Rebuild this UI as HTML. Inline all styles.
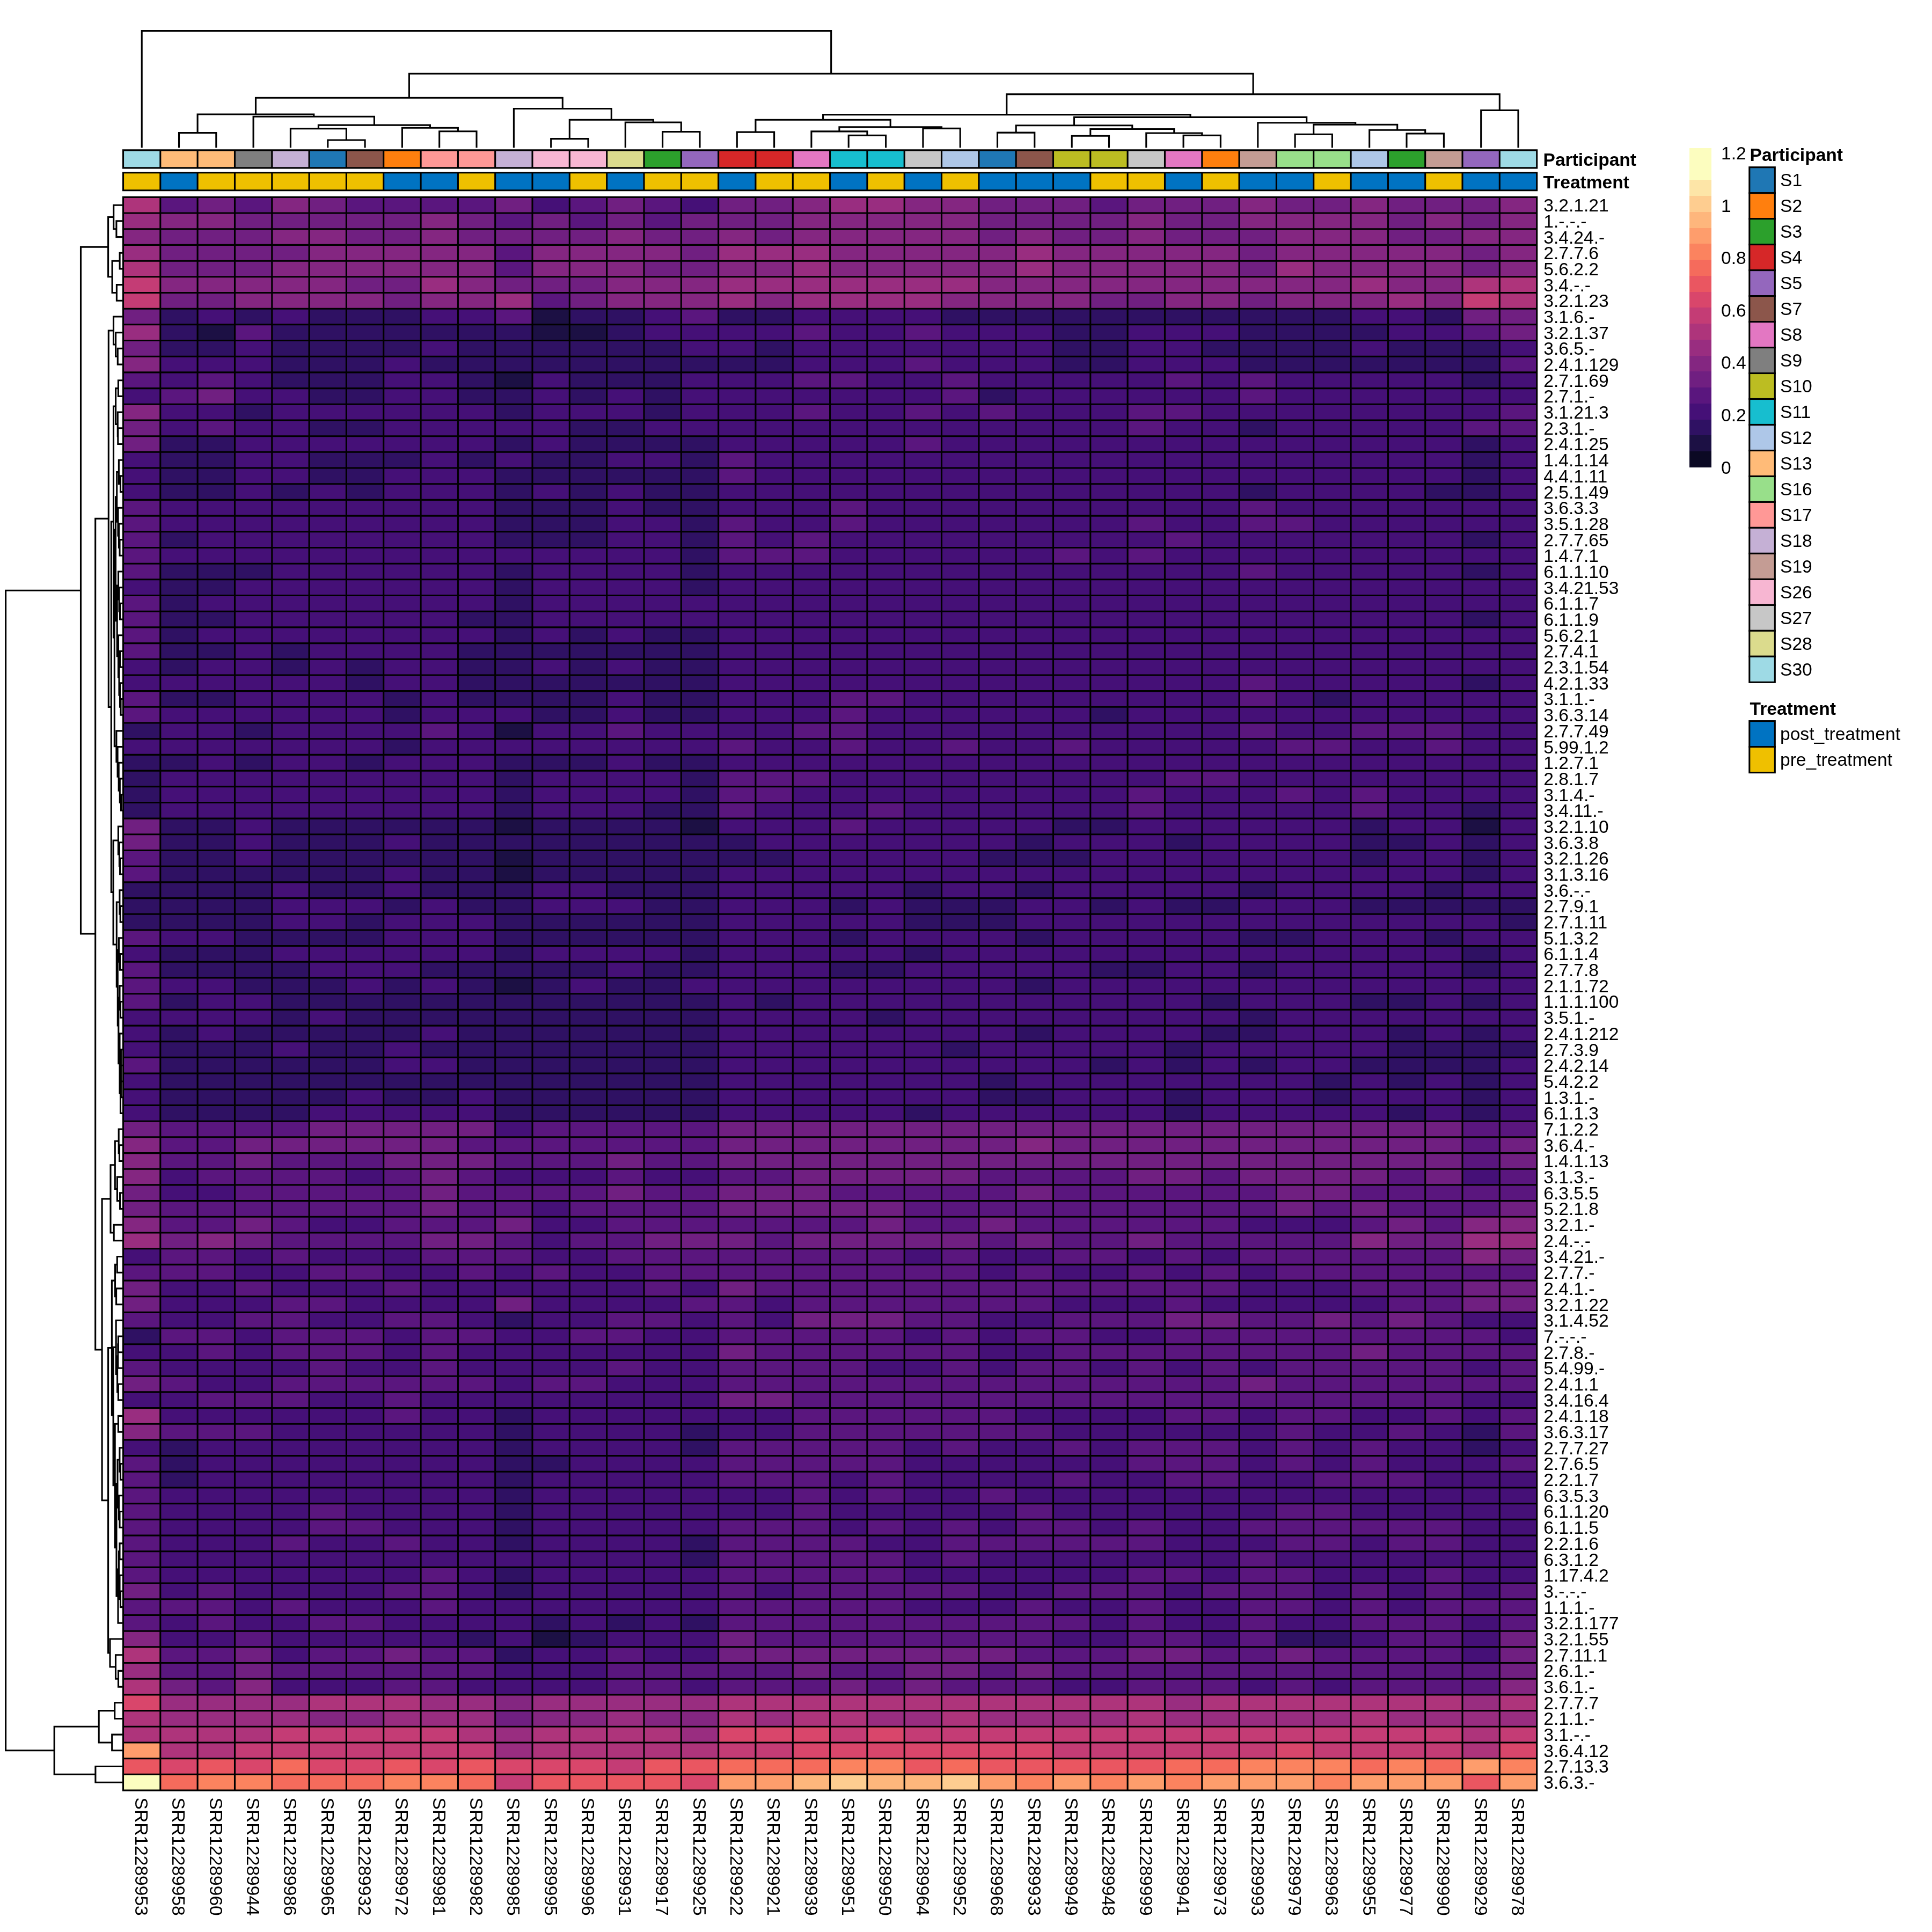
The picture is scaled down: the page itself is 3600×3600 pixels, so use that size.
<!DOCTYPE html><html><head><meta charset="utf-8"><title>heatmap</title>
<style>html,body{margin:0;padding:0;background:#fff;overflow:hidden;width:3600px;height:3600px}svg{display:block;will-change:transform}text{font-family:"Liberation Sans",Arial,Helvetica,sans-serif;font-size:33.6px;fill:#000}.b{font-weight:bold}</style></head><body>
<svg width="3600" height="3600" viewBox="0 0 3600 3600">
<rect width="3600" height="3600" fill="#fff"/>
<g shape-rendering="crispEdges">
<rect x="229.5" y="367.4" width="69.3" height="30.2" fill="#ae347b"/>
<rect x="298.8" y="367.4" width="69.3" height="30.2" fill="#5a167e"/>
<rect x="368.1" y="367.4" width="69.3" height="30.2" fill="#701f81"/>
<rect x="437.5" y="367.4" width="69.3" height="30.2" fill="#5a167e"/>
<rect x="506.8" y="367.4" width="69.3" height="30.2" fill="#842681"/>
<rect x="576.1" y="367.4" width="69.3" height="30.2" fill="#701f81"/>
<rect x="645.4" y="367.4" width="277.3" height="30.2" fill="#5a167e"/>
<rect x="922.7" y="367.4" width="69.3" height="30.2" fill="#701f81"/>
<rect x="992" y="367.4" width="69.3" height="30.2" fill="#451077"/>
<rect x="1061.3" y="367.4" width="69.3" height="30.2" fill="#5a167e"/>
<rect x="1130.7" y="367.4" width="69.3" height="30.2" fill="#701f81"/>
<rect x="1200" y="367.4" width="69.3" height="30.2" fill="#5a167e"/>
<rect x="1269.3" y="367.4" width="69.3" height="30.2" fill="#451077"/>
<rect x="1338.6" y="367.4" width="138.6" height="30.2" fill="#701f81"/>
<rect x="1477.3" y="367.4" width="69.3" height="30.2" fill="#842681"/>
<rect x="1546.6" y="367.4" width="138.6" height="30.2" fill="#992d80"/>
<rect x="1685.2" y="367.4" width="138.6" height="30.2" fill="#842681"/>
<rect x="1823.9" y="367.4" width="208" height="30.2" fill="#701f81"/>
<rect x="2031.8" y="367.4" width="69.3" height="30.2" fill="#5a167e"/>
<rect x="2101.1" y="367.4" width="208" height="30.2" fill="#701f81"/>
<rect x="2309.1" y="367.4" width="69.3" height="30.2" fill="#842681"/>
<rect x="2378.4" y="367.4" width="138.6" height="30.2" fill="#701f81"/>
<rect x="2517.1" y="367.4" width="69.3" height="30.2" fill="#842681"/>
<rect x="2586.4" y="367.4" width="208" height="30.2" fill="#701f81"/>
<rect x="2794.3" y="367.4" width="69.3" height="30.2" fill="#842681"/>
<rect x="229.5" y="397" width="69.3" height="30.2" fill="#992d80"/>
<rect x="298.8" y="397" width="138.6" height="30.2" fill="#842681"/>
<rect x="437.5" y="397" width="346.6" height="30.2" fill="#701f81"/>
<rect x="784.1" y="397" width="69.3" height="30.2" fill="#842681"/>
<rect x="853.4" y="397" width="69.3" height="30.2" fill="#701f81"/>
<rect x="922.7" y="397" width="69.3" height="30.2" fill="#5a167e"/>
<rect x="992" y="397" width="69.3" height="30.2" fill="#701f81"/>
<rect x="1061.3" y="397" width="69.3" height="30.2" fill="#5a167e"/>
<rect x="1130.7" y="397" width="69.3" height="30.2" fill="#701f81"/>
<rect x="1200" y="397" width="69.3" height="30.2" fill="#5a167e"/>
<rect x="1269.3" y="397" width="208" height="30.2" fill="#701f81"/>
<rect x="1477.3" y="397" width="346.6" height="30.2" fill="#842681"/>
<rect x="1823.9" y="397" width="277.3" height="30.2" fill="#701f81"/>
<rect x="2101.1" y="397" width="69.3" height="30.2" fill="#842681"/>
<rect x="2170.5" y="397" width="138.6" height="30.2" fill="#701f81"/>
<rect x="2309.1" y="397" width="277.3" height="30.2" fill="#842681"/>
<rect x="2586.4" y="397" width="69.3" height="30.2" fill="#701f81"/>
<rect x="2655.7" y="397" width="69.3" height="30.2" fill="#842681"/>
<rect x="2725" y="397" width="69.3" height="30.2" fill="#701f81"/>
<rect x="2794.3" y="397" width="69.3" height="30.2" fill="#842681"/>
<rect x="229.5" y="426.7" width="69.3" height="30.2" fill="#842681"/>
<rect x="298.8" y="426.7" width="208" height="30.2" fill="#701f81"/>
<rect x="506.8" y="426.7" width="138.6" height="30.2" fill="#842681"/>
<rect x="645.4" y="426.7" width="138.6" height="30.2" fill="#701f81"/>
<rect x="784.1" y="426.7" width="69.3" height="30.2" fill="#842681"/>
<rect x="853.4" y="426.7" width="277.3" height="30.2" fill="#701f81"/>
<rect x="1130.7" y="426.7" width="69.3" height="30.2" fill="#842681"/>
<rect x="1200" y="426.7" width="138.6" height="30.2" fill="#701f81"/>
<rect x="1338.6" y="426.7" width="69.3" height="30.2" fill="#842681"/>
<rect x="1407.9" y="426.7" width="69.3" height="30.2" fill="#701f81"/>
<rect x="1477.3" y="426.7" width="346.6" height="30.2" fill="#842681"/>
<rect x="1823.9" y="426.7" width="69.3" height="30.2" fill="#701f81"/>
<rect x="1893.2" y="426.7" width="69.3" height="30.2" fill="#842681"/>
<rect x="1962.5" y="426.7" width="138.6" height="30.2" fill="#701f81"/>
<rect x="2101.1" y="426.7" width="69.3" height="30.2" fill="#842681"/>
<rect x="2170.5" y="426.7" width="208" height="30.2" fill="#701f81"/>
<rect x="2378.4" y="426.7" width="208" height="30.2" fill="#842681"/>
<rect x="2586.4" y="426.7" width="138.6" height="30.2" fill="#701f81"/>
<rect x="2725" y="426.7" width="138.6" height="30.2" fill="#842681"/>
<rect x="229.5" y="456.4" width="69.3" height="30.2" fill="#992d80"/>
<rect x="298.8" y="456.4" width="277.3" height="30.2" fill="#701f81"/>
<rect x="576.1" y="456.4" width="346.6" height="30.2" fill="#842681"/>
<rect x="922.7" y="456.4" width="69.3" height="30.2" fill="#5a167e"/>
<rect x="992" y="456.4" width="277.3" height="30.2" fill="#842681"/>
<rect x="1269.3" y="456.4" width="69.3" height="30.2" fill="#701f81"/>
<rect x="1338.6" y="456.4" width="208" height="30.2" fill="#992d80"/>
<rect x="1546.6" y="456.4" width="346.6" height="30.2" fill="#842681"/>
<rect x="1893.2" y="456.4" width="69.3" height="30.2" fill="#992d80"/>
<rect x="1962.5" y="456.4" width="346.6" height="30.2" fill="#842681"/>
<rect x="2309.1" y="456.4" width="69.3" height="30.2" fill="#701f81"/>
<rect x="2378.4" y="456.4" width="346.6" height="30.2" fill="#842681"/>
<rect x="2725" y="456.4" width="69.3" height="30.2" fill="#701f81"/>
<rect x="2794.3" y="456.4" width="69.3" height="30.2" fill="#842681"/>
<rect x="229.5" y="486.1" width="69.3" height="30.2" fill="#ae347b"/>
<rect x="298.8" y="486.1" width="208" height="30.2" fill="#701f81"/>
<rect x="506.8" y="486.1" width="415.9" height="30.2" fill="#842681"/>
<rect x="922.7" y="486.1" width="69.3" height="30.2" fill="#5a167e"/>
<rect x="992" y="486.1" width="208" height="30.2" fill="#842681"/>
<rect x="1200" y="486.1" width="138.6" height="30.2" fill="#701f81"/>
<rect x="1338.6" y="486.1" width="138.6" height="30.2" fill="#842681"/>
<rect x="1477.3" y="486.1" width="69.3" height="30.2" fill="#992d80"/>
<rect x="1546.6" y="486.1" width="346.6" height="30.2" fill="#842681"/>
<rect x="1893.2" y="486.1" width="69.3" height="30.2" fill="#992d80"/>
<rect x="1962.5" y="486.1" width="346.6" height="30.2" fill="#842681"/>
<rect x="2309.1" y="486.1" width="69.3" height="30.2" fill="#701f81"/>
<rect x="2378.4" y="486.1" width="69.3" height="30.2" fill="#992d80"/>
<rect x="2447.7" y="486.1" width="277.3" height="30.2" fill="#842681"/>
<rect x="2725" y="486.1" width="69.3" height="30.2" fill="#701f81"/>
<rect x="2794.3" y="486.1" width="69.3" height="30.2" fill="#842681"/>
<rect x="229.5" y="515.8" width="69.3" height="30.2" fill="#c43c75"/>
<rect x="298.8" y="515.8" width="346.6" height="30.2" fill="#842681"/>
<rect x="645.4" y="515.8" width="138.6" height="30.2" fill="#701f81"/>
<rect x="784.1" y="515.8" width="69.3" height="30.2" fill="#992d80"/>
<rect x="853.4" y="515.8" width="69.3" height="30.2" fill="#842681"/>
<rect x="922.7" y="515.8" width="208" height="30.2" fill="#701f81"/>
<rect x="1130.7" y="515.8" width="208" height="30.2" fill="#842681"/>
<rect x="1338.6" y="515.8" width="485.2" height="30.2" fill="#992d80"/>
<rect x="1823.9" y="515.8" width="693.2" height="30.2" fill="#842681"/>
<rect x="2517.1" y="515.8" width="69.3" height="30.2" fill="#992d80"/>
<rect x="2586.4" y="515.8" width="138.6" height="30.2" fill="#842681"/>
<rect x="2725" y="515.8" width="138.6" height="30.2" fill="#ae347b"/>
<rect x="229.5" y="545.5" width="69.3" height="30.2" fill="#c43c75"/>
<rect x="298.8" y="545.5" width="138.6" height="30.2" fill="#701f81"/>
<rect x="437.5" y="545.5" width="277.3" height="30.2" fill="#842681"/>
<rect x="714.7" y="545.5" width="69.3" height="30.2" fill="#701f81"/>
<rect x="784.1" y="545.5" width="138.6" height="30.2" fill="#842681"/>
<rect x="922.7" y="545.5" width="69.3" height="30.2" fill="#992d80"/>
<rect x="992" y="545.5" width="69.3" height="30.2" fill="#5a167e"/>
<rect x="1061.3" y="545.5" width="69.3" height="30.2" fill="#701f81"/>
<rect x="1130.7" y="545.5" width="208" height="30.2" fill="#842681"/>
<rect x="1338.6" y="545.5" width="69.3" height="30.2" fill="#992d80"/>
<rect x="1407.9" y="545.5" width="69.3" height="30.2" fill="#842681"/>
<rect x="1477.3" y="545.5" width="277.3" height="30.2" fill="#992d80"/>
<rect x="1754.5" y="545.5" width="277.3" height="30.2" fill="#842681"/>
<rect x="2031.8" y="545.5" width="138.6" height="30.2" fill="#701f81"/>
<rect x="2170.5" y="545.5" width="138.6" height="30.2" fill="#842681"/>
<rect x="2309.1" y="545.5" width="69.3" height="30.2" fill="#701f81"/>
<rect x="2378.4" y="545.5" width="208" height="30.2" fill="#842681"/>
<rect x="2586.4" y="545.5" width="69.3" height="30.2" fill="#992d80"/>
<rect x="2655.7" y="545.5" width="69.3" height="30.2" fill="#842681"/>
<rect x="2725" y="545.5" width="69.3" height="30.2" fill="#c43c75"/>
<rect x="2794.3" y="545.5" width="69.3" height="30.2" fill="#ae347b"/>
<rect x="229.5" y="575.2" width="69.3" height="30.2" fill="#701f81"/>
<rect x="298.8" y="575.2" width="69.3" height="30.2" fill="#2f1163"/>
<rect x="368.1" y="575.2" width="69.3" height="30.2" fill="#451077"/>
<rect x="437.5" y="575.2" width="69.3" height="30.2" fill="#2f1163"/>
<rect x="506.8" y="575.2" width="69.3" height="30.2" fill="#451077"/>
<rect x="576.1" y="575.2" width="208" height="30.2" fill="#2f1163"/>
<rect x="784.1" y="575.2" width="138.6" height="30.2" fill="#451077"/>
<rect x="922.7" y="575.2" width="69.3" height="30.2" fill="#5a167e"/>
<rect x="992" y="575.2" width="69.3" height="30.2" fill="#1c1044"/>
<rect x="1061.3" y="575.2" width="138.6" height="30.2" fill="#2f1163"/>
<rect x="1200" y="575.2" width="69.3" height="30.2" fill="#451077"/>
<rect x="1269.3" y="575.2" width="69.3" height="30.2" fill="#5a167e"/>
<rect x="1338.6" y="575.2" width="138.6" height="30.2" fill="#2f1163"/>
<rect x="1477.3" y="575.2" width="277.3" height="30.2" fill="#451077"/>
<rect x="1754.5" y="575.2" width="762.5" height="30.2" fill="#2f1163"/>
<rect x="2517.1" y="575.2" width="138.6" height="30.2" fill="#451077"/>
<rect x="2655.7" y="575.2" width="69.3" height="30.2" fill="#2f1163"/>
<rect x="2725" y="575.2" width="138.6" height="30.2" fill="#701f81"/>
<rect x="229.5" y="604.8" width="69.3" height="30.2" fill="#992d80"/>
<rect x="298.8" y="604.8" width="69.3" height="30.2" fill="#2f1163"/>
<rect x="368.1" y="604.8" width="69.3" height="30.2" fill="#1c1044"/>
<rect x="437.5" y="604.8" width="69.3" height="30.2" fill="#5a167e"/>
<rect x="506.8" y="604.8" width="485.2" height="30.2" fill="#2f1163"/>
<rect x="992" y="604.8" width="138.6" height="30.2" fill="#1c1044"/>
<rect x="1130.7" y="604.8" width="69.3" height="30.2" fill="#2f1163"/>
<rect x="1200" y="604.8" width="277.3" height="30.2" fill="#451077"/>
<rect x="1477.3" y="604.8" width="69.3" height="30.2" fill="#5a167e"/>
<rect x="1546.6" y="604.8" width="138.6" height="30.2" fill="#451077"/>
<rect x="1685.2" y="604.8" width="69.3" height="30.2" fill="#5a167e"/>
<rect x="1754.5" y="604.8" width="208" height="30.2" fill="#451077"/>
<rect x="1962.5" y="604.8" width="138.6" height="30.2" fill="#2f1163"/>
<rect x="2101.1" y="604.8" width="208" height="30.2" fill="#451077"/>
<rect x="2309.1" y="604.8" width="277.3" height="30.2" fill="#2f1163"/>
<rect x="2586.4" y="604.8" width="138.6" height="30.2" fill="#451077"/>
<rect x="2725" y="604.8" width="69.3" height="30.2" fill="#5a167e"/>
<rect x="2794.3" y="604.8" width="69.3" height="30.2" fill="#701f81"/>
<rect x="229.5" y="634.5" width="69.3" height="30.2" fill="#701f81"/>
<rect x="298.8" y="634.5" width="138.6" height="30.2" fill="#2f1163"/>
<rect x="437.5" y="634.5" width="69.3" height="30.2" fill="#451077"/>
<rect x="506.8" y="634.5" width="277.3" height="30.2" fill="#2f1163"/>
<rect x="784.1" y="634.5" width="69.3" height="30.2" fill="#451077"/>
<rect x="853.4" y="634.5" width="415.9" height="30.2" fill="#2f1163"/>
<rect x="1269.3" y="634.5" width="138.6" height="30.2" fill="#451077"/>
<rect x="1407.9" y="634.5" width="69.3" height="30.2" fill="#2f1163"/>
<rect x="1477.3" y="634.5" width="485.2" height="30.2" fill="#451077"/>
<rect x="1962.5" y="634.5" width="138.6" height="30.2" fill="#2f1163"/>
<rect x="2101.1" y="634.5" width="138.6" height="30.2" fill="#451077"/>
<rect x="2239.8" y="634.5" width="277.3" height="30.2" fill="#2f1163"/>
<rect x="2517.1" y="634.5" width="69.3" height="30.2" fill="#451077"/>
<rect x="2586.4" y="634.5" width="208" height="30.2" fill="#2f1163"/>
<rect x="2794.3" y="634.5" width="69.3" height="30.2" fill="#451077"/>
<rect x="229.5" y="664.2" width="69.3" height="30.2" fill="#842681"/>
<rect x="298.8" y="664.2" width="208" height="30.2" fill="#451077"/>
<rect x="506.8" y="664.2" width="208" height="30.2" fill="#2f1163"/>
<rect x="714.7" y="664.2" width="69.3" height="30.2" fill="#451077"/>
<rect x="784.1" y="664.2" width="693.2" height="30.2" fill="#2f1163"/>
<rect x="1477.3" y="664.2" width="208" height="30.2" fill="#451077"/>
<rect x="1685.2" y="664.2" width="69.3" height="30.2" fill="#5a167e"/>
<rect x="1754.5" y="664.2" width="208" height="30.2" fill="#451077"/>
<rect x="1962.5" y="664.2" width="138.6" height="30.2" fill="#2f1163"/>
<rect x="2101.1" y="664.2" width="208" height="30.2" fill="#451077"/>
<rect x="2309.1" y="664.2" width="485.2" height="30.2" fill="#2f1163"/>
<rect x="2794.3" y="664.2" width="69.3" height="30.2" fill="#5a167e"/>
<rect x="229.5" y="693.9" width="69.3" height="30.2" fill="#5a167e"/>
<rect x="298.8" y="693.9" width="69.3" height="30.2" fill="#451077"/>
<rect x="368.1" y="693.9" width="69.3" height="30.2" fill="#5a167e"/>
<rect x="437.5" y="693.9" width="69.3" height="30.2" fill="#451077"/>
<rect x="506.8" y="693.9" width="208" height="30.2" fill="#2f1163"/>
<rect x="714.7" y="693.9" width="138.6" height="30.2" fill="#451077"/>
<rect x="853.4" y="693.9" width="69.3" height="30.2" fill="#2f1163"/>
<rect x="922.7" y="693.9" width="69.3" height="30.2" fill="#1c1044"/>
<rect x="992" y="693.9" width="69.3" height="30.2" fill="#451077"/>
<rect x="1061.3" y="693.9" width="208" height="30.2" fill="#2f1163"/>
<rect x="1269.3" y="693.9" width="208" height="30.2" fill="#451077"/>
<rect x="1477.3" y="693.9" width="138.6" height="30.2" fill="#5a167e"/>
<rect x="1615.9" y="693.9" width="138.6" height="30.2" fill="#451077"/>
<rect x="1754.5" y="693.9" width="69.3" height="30.2" fill="#5a167e"/>
<rect x="1823.9" y="693.9" width="346.6" height="30.2" fill="#451077"/>
<rect x="2170.5" y="693.9" width="69.3" height="30.2" fill="#5a167e"/>
<rect x="2239.8" y="693.9" width="69.3" height="30.2" fill="#451077"/>
<rect x="2309.1" y="693.9" width="69.3" height="30.2" fill="#5a167e"/>
<rect x="2378.4" y="693.9" width="346.6" height="30.2" fill="#451077"/>
<rect x="2725" y="693.9" width="69.3" height="30.2" fill="#2f1163"/>
<rect x="2794.3" y="693.9" width="69.3" height="30.2" fill="#451077"/>
<rect x="229.5" y="723.6" width="69.3" height="30.2" fill="#451077"/>
<rect x="298.8" y="723.6" width="69.3" height="30.2" fill="#5a167e"/>
<rect x="368.1" y="723.6" width="69.3" height="30.2" fill="#701f81"/>
<rect x="437.5" y="723.6" width="138.6" height="30.2" fill="#451077"/>
<rect x="576.1" y="723.6" width="138.6" height="30.2" fill="#2f1163"/>
<rect x="714.7" y="723.6" width="138.6" height="30.2" fill="#451077"/>
<rect x="853.4" y="723.6" width="138.6" height="30.2" fill="#2f1163"/>
<rect x="992" y="723.6" width="69.3" height="30.2" fill="#451077"/>
<rect x="1061.3" y="723.6" width="69.3" height="30.2" fill="#2f1163"/>
<rect x="1130.7" y="723.6" width="69.3" height="30.2" fill="#451077"/>
<rect x="1200" y="723.6" width="69.3" height="30.2" fill="#2f1163"/>
<rect x="1269.3" y="723.6" width="485.2" height="30.2" fill="#451077"/>
<rect x="1754.5" y="723.6" width="69.3" height="30.2" fill="#5a167e"/>
<rect x="1823.9" y="723.6" width="69.3" height="30.2" fill="#2f1163"/>
<rect x="1893.2" y="723.6" width="415.9" height="30.2" fill="#451077"/>
<rect x="2309.1" y="723.6" width="69.3" height="30.2" fill="#5a167e"/>
<rect x="2378.4" y="723.6" width="485.2" height="30.2" fill="#451077"/>
<rect x="229.5" y="753.3" width="69.3" height="30.2" fill="#842681"/>
<rect x="298.8" y="753.3" width="138.6" height="30.2" fill="#451077"/>
<rect x="437.5" y="753.3" width="69.3" height="30.2" fill="#2f1163"/>
<rect x="506.8" y="753.3" width="415.9" height="30.2" fill="#451077"/>
<rect x="922.7" y="753.3" width="69.3" height="30.2" fill="#2f1163"/>
<rect x="992" y="753.3" width="208" height="30.2" fill="#451077"/>
<rect x="1200" y="753.3" width="69.3" height="30.2" fill="#2f1163"/>
<rect x="1269.3" y="753.3" width="208" height="30.2" fill="#451077"/>
<rect x="1477.3" y="753.3" width="69.3" height="30.2" fill="#5a167e"/>
<rect x="1546.6" y="753.3" width="138.6" height="30.2" fill="#451077"/>
<rect x="1685.2" y="753.3" width="69.3" height="30.2" fill="#5a167e"/>
<rect x="1754.5" y="753.3" width="69.3" height="30.2" fill="#451077"/>
<rect x="1823.9" y="753.3" width="69.3" height="30.2" fill="#5a167e"/>
<rect x="1893.2" y="753.3" width="208" height="30.2" fill="#451077"/>
<rect x="2101.1" y="753.3" width="138.6" height="30.2" fill="#5a167e"/>
<rect x="2239.8" y="753.3" width="554.6" height="30.2" fill="#451077"/>
<rect x="2794.3" y="753.3" width="69.3" height="30.2" fill="#5a167e"/>
<rect x="229.5" y="783" width="69.3" height="30.2" fill="#701f81"/>
<rect x="298.8" y="783" width="69.3" height="30.2" fill="#451077"/>
<rect x="368.1" y="783" width="69.3" height="30.2" fill="#5a167e"/>
<rect x="437.5" y="783" width="138.6" height="30.2" fill="#451077"/>
<rect x="576.1" y="783" width="138.6" height="30.2" fill="#2f1163"/>
<rect x="714.7" y="783" width="346.6" height="30.2" fill="#451077"/>
<rect x="1061.3" y="783" width="138.6" height="30.2" fill="#2f1163"/>
<rect x="1200" y="783" width="901.2" height="30.2" fill="#451077"/>
<rect x="2101.1" y="783" width="69.3" height="30.2" fill="#5a167e"/>
<rect x="2170.5" y="783" width="138.6" height="30.2" fill="#451077"/>
<rect x="2309.1" y="783" width="69.3" height="30.2" fill="#2f1163"/>
<rect x="2378.4" y="783" width="346.6" height="30.2" fill="#451077"/>
<rect x="2725" y="783" width="138.6" height="30.2" fill="#5a167e"/>
<rect x="229.5" y="812.7" width="69.3" height="30.2" fill="#701f81"/>
<rect x="298.8" y="812.7" width="138.6" height="30.2" fill="#2f1163"/>
<rect x="437.5" y="812.7" width="485.2" height="30.2" fill="#451077"/>
<rect x="922.7" y="812.7" width="69.3" height="30.2" fill="#2f1163"/>
<rect x="992" y="812.7" width="69.3" height="30.2" fill="#451077"/>
<rect x="1061.3" y="812.7" width="277.3" height="30.2" fill="#2f1163"/>
<rect x="1338.6" y="812.7" width="346.6" height="30.2" fill="#451077"/>
<rect x="1685.2" y="812.7" width="69.3" height="30.2" fill="#5a167e"/>
<rect x="1754.5" y="812.7" width="970.5" height="30.2" fill="#451077"/>
<rect x="2725" y="812.7" width="69.3" height="30.2" fill="#2f1163"/>
<rect x="2794.3" y="812.7" width="69.3" height="30.2" fill="#451077"/>
<rect x="229.5" y="842.3" width="69.3" height="30.2" fill="#451077"/>
<rect x="298.8" y="842.3" width="138.6" height="30.2" fill="#2f1163"/>
<rect x="437.5" y="842.3" width="138.6" height="30.2" fill="#451077"/>
<rect x="576.1" y="842.3" width="208" height="30.2" fill="#2f1163"/>
<rect x="784.1" y="842.3" width="69.3" height="30.2" fill="#451077"/>
<rect x="853.4" y="842.3" width="69.3" height="30.2" fill="#2f1163"/>
<rect x="922.7" y="842.3" width="69.3" height="30.2" fill="#451077"/>
<rect x="992" y="842.3" width="138.6" height="30.2" fill="#2f1163"/>
<rect x="1130.7" y="842.3" width="138.6" height="30.2" fill="#451077"/>
<rect x="1269.3" y="842.3" width="69.3" height="30.2" fill="#2f1163"/>
<rect x="1338.6" y="842.3" width="69.3" height="30.2" fill="#5a167e"/>
<rect x="1407.9" y="842.3" width="1317.1" height="30.2" fill="#451077"/>
<rect x="2725" y="842.3" width="69.3" height="30.2" fill="#2f1163"/>
<rect x="2794.3" y="842.3" width="69.3" height="30.2" fill="#451077"/>
<rect x="229.5" y="872" width="69.3" height="30.2" fill="#451077"/>
<rect x="298.8" y="872" width="138.6" height="30.2" fill="#2f1163"/>
<rect x="437.5" y="872" width="138.6" height="30.2" fill="#451077"/>
<rect x="576.1" y="872" width="138.6" height="30.2" fill="#2f1163"/>
<rect x="714.7" y="872" width="208" height="30.2" fill="#451077"/>
<rect x="922.7" y="872" width="415.9" height="30.2" fill="#2f1163"/>
<rect x="1338.6" y="872" width="69.3" height="30.2" fill="#5a167e"/>
<rect x="1407.9" y="872" width="1317.1" height="30.2" fill="#451077"/>
<rect x="2725" y="872" width="69.3" height="30.2" fill="#2f1163"/>
<rect x="2794.3" y="872" width="69.3" height="30.2" fill="#451077"/>
<rect x="229.5" y="901.7" width="69.3" height="30.2" fill="#451077"/>
<rect x="298.8" y="901.7" width="138.6" height="30.2" fill="#2f1163"/>
<rect x="437.5" y="901.7" width="69.3" height="30.2" fill="#451077"/>
<rect x="506.8" y="901.7" width="69.3" height="30.2" fill="#2f1163"/>
<rect x="576.1" y="901.7" width="69.3" height="30.2" fill="#451077"/>
<rect x="645.4" y="901.7" width="69.3" height="30.2" fill="#2f1163"/>
<rect x="714.7" y="901.7" width="208" height="30.2" fill="#451077"/>
<rect x="922.7" y="901.7" width="69.3" height="30.2" fill="#2f1163"/>
<rect x="992" y="901.7" width="69.3" height="30.2" fill="#451077"/>
<rect x="1061.3" y="901.7" width="69.3" height="30.2" fill="#2f1163"/>
<rect x="1130.7" y="901.7" width="69.3" height="30.2" fill="#451077"/>
<rect x="1200" y="901.7" width="138.6" height="30.2" fill="#2f1163"/>
<rect x="1338.6" y="901.7" width="970.5" height="30.2" fill="#451077"/>
<rect x="2309.1" y="901.7" width="69.3" height="30.2" fill="#2f1163"/>
<rect x="2378.4" y="901.7" width="277.3" height="30.2" fill="#451077"/>
<rect x="2655.7" y="901.7" width="138.6" height="30.2" fill="#2f1163"/>
<rect x="2794.3" y="901.7" width="69.3" height="30.2" fill="#451077"/>
<rect x="229.5" y="931.4" width="69.3" height="30.2" fill="#5a167e"/>
<rect x="298.8" y="931.4" width="623.9" height="30.2" fill="#451077"/>
<rect x="922.7" y="931.4" width="208" height="30.2" fill="#2f1163"/>
<rect x="1130.7" y="931.4" width="69.3" height="30.2" fill="#451077"/>
<rect x="1200" y="931.4" width="138.6" height="30.2" fill="#2f1163"/>
<rect x="1338.6" y="931.4" width="208" height="30.2" fill="#451077"/>
<rect x="1546.6" y="931.4" width="69.3" height="30.2" fill="#5a167e"/>
<rect x="1615.9" y="931.4" width="693.2" height="30.2" fill="#451077"/>
<rect x="2309.1" y="931.4" width="69.3" height="30.2" fill="#5a167e"/>
<rect x="2378.4" y="931.4" width="485.2" height="30.2" fill="#451077"/>
<rect x="229.5" y="961.1" width="69.3" height="30.2" fill="#5a167e"/>
<rect x="298.8" y="961.1" width="623.9" height="30.2" fill="#451077"/>
<rect x="922.7" y="961.1" width="208" height="30.2" fill="#2f1163"/>
<rect x="1130.7" y="961.1" width="138.6" height="30.2" fill="#451077"/>
<rect x="1269.3" y="961.1" width="69.3" height="30.2" fill="#2f1163"/>
<rect x="1338.6" y="961.1" width="69.3" height="30.2" fill="#5a167e"/>
<rect x="1407.9" y="961.1" width="138.6" height="30.2" fill="#451077"/>
<rect x="1546.6" y="961.1" width="69.3" height="30.2" fill="#5a167e"/>
<rect x="1615.9" y="961.1" width="485.2" height="30.2" fill="#451077"/>
<rect x="2101.1" y="961.1" width="69.3" height="30.2" fill="#5a167e"/>
<rect x="2170.5" y="961.1" width="138.6" height="30.2" fill="#451077"/>
<rect x="2309.1" y="961.1" width="138.6" height="30.2" fill="#5a167e"/>
<rect x="2447.7" y="961.1" width="415.9" height="30.2" fill="#451077"/>
<rect x="229.5" y="990.8" width="69.3" height="30.2" fill="#5a167e"/>
<rect x="298.8" y="990.8" width="69.3" height="30.2" fill="#2f1163"/>
<rect x="368.1" y="990.8" width="554.6" height="30.2" fill="#451077"/>
<rect x="922.7" y="990.8" width="208" height="30.2" fill="#2f1163"/>
<rect x="1130.7" y="990.8" width="138.6" height="30.2" fill="#451077"/>
<rect x="1269.3" y="990.8" width="69.3" height="30.2" fill="#2f1163"/>
<rect x="1338.6" y="990.8" width="69.3" height="30.2" fill="#5a167e"/>
<rect x="1407.9" y="990.8" width="69.3" height="30.2" fill="#451077"/>
<rect x="1477.3" y="990.8" width="69.3" height="30.2" fill="#5a167e"/>
<rect x="1546.6" y="990.8" width="623.9" height="30.2" fill="#451077"/>
<rect x="2170.5" y="990.8" width="69.3" height="30.2" fill="#5a167e"/>
<rect x="2239.8" y="990.8" width="485.2" height="30.2" fill="#451077"/>
<rect x="2725" y="990.8" width="69.3" height="30.2" fill="#2f1163"/>
<rect x="2794.3" y="990.8" width="69.3" height="30.2" fill="#451077"/>
<rect x="229.5" y="1020.5" width="69.3" height="30.2" fill="#5a167e"/>
<rect x="298.8" y="1020.5" width="970.5" height="30.2" fill="#451077"/>
<rect x="1269.3" y="1020.5" width="69.3" height="30.2" fill="#2f1163"/>
<rect x="1338.6" y="1020.5" width="208" height="30.2" fill="#5a167e"/>
<rect x="1546.6" y="1020.5" width="415.9" height="30.2" fill="#451077"/>
<rect x="1962.5" y="1020.5" width="69.3" height="30.2" fill="#5a167e"/>
<rect x="2031.8" y="1020.5" width="69.3" height="30.2" fill="#451077"/>
<rect x="2101.1" y="1020.5" width="69.3" height="30.2" fill="#5a167e"/>
<rect x="2170.5" y="1020.5" width="693.2" height="30.2" fill="#451077"/>
<rect x="229.5" y="1050.2" width="69.3" height="30.2" fill="#5a167e"/>
<rect x="298.8" y="1050.2" width="208" height="30.2" fill="#2f1163"/>
<rect x="506.8" y="1050.2" width="415.9" height="30.2" fill="#451077"/>
<rect x="922.7" y="1050.2" width="69.3" height="30.2" fill="#2f1163"/>
<rect x="992" y="1050.2" width="277.3" height="30.2" fill="#451077"/>
<rect x="1269.3" y="1050.2" width="69.3" height="30.2" fill="#2f1163"/>
<rect x="1338.6" y="1050.2" width="970.5" height="30.2" fill="#451077"/>
<rect x="2309.1" y="1050.2" width="69.3" height="30.2" fill="#5a167e"/>
<rect x="2378.4" y="1050.2" width="346.6" height="30.2" fill="#451077"/>
<rect x="2725" y="1050.2" width="69.3" height="30.2" fill="#2f1163"/>
<rect x="2794.3" y="1050.2" width="69.3" height="30.2" fill="#451077"/>
<rect x="229.5" y="1079.8" width="69.3" height="30.2" fill="#451077"/>
<rect x="298.8" y="1079.8" width="138.6" height="30.2" fill="#2f1163"/>
<rect x="437.5" y="1079.8" width="485.2" height="30.2" fill="#451077"/>
<rect x="922.7" y="1079.8" width="69.3" height="30.2" fill="#2f1163"/>
<rect x="992" y="1079.8" width="277.3" height="30.2" fill="#451077"/>
<rect x="1269.3" y="1079.8" width="69.3" height="30.2" fill="#2f1163"/>
<rect x="1338.6" y="1079.8" width="1525" height="30.2" fill="#451077"/>
<rect x="229.5" y="1109.5" width="69.3" height="30.2" fill="#5a167e"/>
<rect x="298.8" y="1109.5" width="69.3" height="30.2" fill="#2f1163"/>
<rect x="368.1" y="1109.5" width="554.6" height="30.2" fill="#451077"/>
<rect x="922.7" y="1109.5" width="69.3" height="30.2" fill="#2f1163"/>
<rect x="992" y="1109.5" width="1871.6" height="30.2" fill="#451077"/>
<rect x="229.5" y="1139.2" width="69.3" height="30.2" fill="#5a167e"/>
<rect x="298.8" y="1139.2" width="138.6" height="30.2" fill="#2f1163"/>
<rect x="437.5" y="1139.2" width="415.9" height="30.2" fill="#451077"/>
<rect x="853.4" y="1139.2" width="138.6" height="30.2" fill="#2f1163"/>
<rect x="992" y="1139.2" width="1733" height="30.2" fill="#451077"/>
<rect x="2725" y="1139.2" width="69.3" height="30.2" fill="#2f1163"/>
<rect x="2794.3" y="1139.2" width="69.3" height="30.2" fill="#451077"/>
<rect x="229.5" y="1168.9" width="69.3" height="30.2" fill="#5a167e"/>
<rect x="298.8" y="1168.9" width="69.3" height="30.2" fill="#2f1163"/>
<rect x="368.1" y="1168.9" width="554.6" height="30.2" fill="#451077"/>
<rect x="922.7" y="1168.9" width="69.3" height="30.2" fill="#2f1163"/>
<rect x="992" y="1168.9" width="69.3" height="30.2" fill="#451077"/>
<rect x="1061.3" y="1168.9" width="69.3" height="30.2" fill="#2f1163"/>
<rect x="1130.7" y="1168.9" width="69.3" height="30.2" fill="#451077"/>
<rect x="1200" y="1168.9" width="138.6" height="30.2" fill="#2f1163"/>
<rect x="1338.6" y="1168.9" width="1525" height="30.2" fill="#451077"/>
<rect x="229.5" y="1198.6" width="69.3" height="30.2" fill="#5a167e"/>
<rect x="298.8" y="1198.6" width="138.6" height="30.2" fill="#2f1163"/>
<rect x="437.5" y="1198.6" width="69.3" height="30.2" fill="#451077"/>
<rect x="506.8" y="1198.6" width="69.3" height="30.2" fill="#2f1163"/>
<rect x="576.1" y="1198.6" width="277.3" height="30.2" fill="#451077"/>
<rect x="853.4" y="1198.6" width="485.2" height="30.2" fill="#2f1163"/>
<rect x="1338.6" y="1198.6" width="1525" height="30.2" fill="#451077"/>
<rect x="229.5" y="1228.3" width="69.3" height="30.2" fill="#451077"/>
<rect x="298.8" y="1228.3" width="69.3" height="30.2" fill="#2f1163"/>
<rect x="368.1" y="1228.3" width="138.6" height="30.2" fill="#451077"/>
<rect x="506.8" y="1228.3" width="69.3" height="30.2" fill="#2f1163"/>
<rect x="576.1" y="1228.3" width="69.3" height="30.2" fill="#451077"/>
<rect x="645.4" y="1228.3" width="69.3" height="30.2" fill="#2f1163"/>
<rect x="714.7" y="1228.3" width="138.6" height="30.2" fill="#451077"/>
<rect x="853.4" y="1228.3" width="138.6" height="30.2" fill="#2f1163"/>
<rect x="992" y="1228.3" width="69.3" height="30.2" fill="#451077"/>
<rect x="1061.3" y="1228.3" width="69.3" height="30.2" fill="#2f1163"/>
<rect x="1130.7" y="1228.3" width="69.3" height="30.2" fill="#451077"/>
<rect x="1200" y="1228.3" width="138.6" height="30.2" fill="#2f1163"/>
<rect x="1338.6" y="1228.3" width="1525" height="30.2" fill="#451077"/>
<rect x="229.5" y="1258" width="415.9" height="30.2" fill="#451077"/>
<rect x="645.4" y="1258" width="69.3" height="30.2" fill="#2f1163"/>
<rect x="714.7" y="1258" width="138.6" height="30.2" fill="#451077"/>
<rect x="853.4" y="1258" width="485.2" height="30.2" fill="#2f1163"/>
<rect x="1338.6" y="1258" width="970.5" height="30.2" fill="#451077"/>
<rect x="2309.1" y="1258" width="69.3" height="30.2" fill="#5a167e"/>
<rect x="2378.4" y="1258" width="346.6" height="30.2" fill="#451077"/>
<rect x="2725" y="1258" width="69.3" height="30.2" fill="#2f1163"/>
<rect x="2794.3" y="1258" width="69.3" height="30.2" fill="#451077"/>
<rect x="229.5" y="1287.6" width="69.3" height="30.2" fill="#5a167e"/>
<rect x="298.8" y="1287.6" width="138.6" height="30.2" fill="#2f1163"/>
<rect x="437.5" y="1287.6" width="277.3" height="30.2" fill="#451077"/>
<rect x="714.7" y="1287.6" width="69.3" height="30.2" fill="#2f1163"/>
<rect x="784.1" y="1287.6" width="69.3" height="30.2" fill="#451077"/>
<rect x="853.4" y="1287.6" width="277.3" height="30.2" fill="#2f1163"/>
<rect x="1130.7" y="1287.6" width="69.3" height="30.2" fill="#451077"/>
<rect x="1200" y="1287.6" width="138.6" height="30.2" fill="#2f1163"/>
<rect x="1338.6" y="1287.6" width="208" height="30.2" fill="#451077"/>
<rect x="1546.6" y="1287.6" width="138.6" height="30.2" fill="#5a167e"/>
<rect x="1685.2" y="1287.6" width="623.9" height="30.2" fill="#451077"/>
<rect x="2309.1" y="1287.6" width="69.3" height="30.2" fill="#5a167e"/>
<rect x="2378.4" y="1287.6" width="69.3" height="30.2" fill="#451077"/>
<rect x="2447.7" y="1287.6" width="69.3" height="30.2" fill="#2f1163"/>
<rect x="2517.1" y="1287.6" width="346.6" height="30.2" fill="#451077"/>
<rect x="229.5" y="1317.3" width="69.3" height="30.2" fill="#5a167e"/>
<rect x="298.8" y="1317.3" width="415.9" height="30.2" fill="#451077"/>
<rect x="714.7" y="1317.3" width="69.3" height="30.2" fill="#2f1163"/>
<rect x="784.1" y="1317.3" width="208" height="30.2" fill="#451077"/>
<rect x="992" y="1317.3" width="138.6" height="30.2" fill="#2f1163"/>
<rect x="1130.7" y="1317.3" width="69.3" height="30.2" fill="#451077"/>
<rect x="1200" y="1317.3" width="138.6" height="30.2" fill="#2f1163"/>
<rect x="1338.6" y="1317.3" width="208" height="30.2" fill="#451077"/>
<rect x="1546.6" y="1317.3" width="69.3" height="30.2" fill="#5a167e"/>
<rect x="1615.9" y="1317.3" width="415.9" height="30.2" fill="#451077"/>
<rect x="2031.8" y="1317.3" width="69.3" height="30.2" fill="#2f1163"/>
<rect x="2101.1" y="1317.3" width="762.5" height="30.2" fill="#451077"/>
<rect x="229.5" y="1347" width="69.3" height="30.2" fill="#2f1163"/>
<rect x="298.8" y="1347" width="138.6" height="30.2" fill="#451077"/>
<rect x="437.5" y="1347" width="69.3" height="30.2" fill="#2f1163"/>
<rect x="506.8" y="1347" width="277.3" height="30.2" fill="#451077"/>
<rect x="784.1" y="1347" width="69.3" height="30.2" fill="#5a167e"/>
<rect x="853.4" y="1347" width="69.3" height="30.2" fill="#451077"/>
<rect x="922.7" y="1347" width="69.3" height="30.2" fill="#1c1044"/>
<rect x="992" y="1347" width="138.6" height="30.2" fill="#451077"/>
<rect x="1130.7" y="1347" width="69.3" height="30.2" fill="#5a167e"/>
<rect x="1200" y="1347" width="277.3" height="30.2" fill="#451077"/>
<rect x="1477.3" y="1347" width="138.6" height="30.2" fill="#5a167e"/>
<rect x="1615.9" y="1347" width="693.2" height="30.2" fill="#451077"/>
<rect x="2309.1" y="1347" width="69.3" height="30.2" fill="#5a167e"/>
<rect x="2378.4" y="1347" width="138.6" height="30.2" fill="#451077"/>
<rect x="2517.1" y="1347" width="208" height="30.2" fill="#5a167e"/>
<rect x="2725" y="1347" width="138.6" height="30.2" fill="#451077"/>
<rect x="229.5" y="1376.7" width="485.2" height="30.2" fill="#451077"/>
<rect x="714.7" y="1376.7" width="69.3" height="30.2" fill="#2f1163"/>
<rect x="784.1" y="1376.7" width="554.6" height="30.2" fill="#451077"/>
<rect x="1338.6" y="1376.7" width="69.3" height="30.2" fill="#5a167e"/>
<rect x="1407.9" y="1376.7" width="138.6" height="30.2" fill="#451077"/>
<rect x="1546.6" y="1376.7" width="69.3" height="30.2" fill="#5a167e"/>
<rect x="1615.9" y="1376.7" width="138.6" height="30.2" fill="#451077"/>
<rect x="1754.5" y="1376.7" width="69.3" height="30.2" fill="#5a167e"/>
<rect x="1823.9" y="1376.7" width="138.6" height="30.2" fill="#451077"/>
<rect x="1962.5" y="1376.7" width="69.3" height="30.2" fill="#5a167e"/>
<rect x="2031.8" y="1376.7" width="346.6" height="30.2" fill="#451077"/>
<rect x="2378.4" y="1376.7" width="138.6" height="30.2" fill="#5a167e"/>
<rect x="2517.1" y="1376.7" width="138.6" height="30.2" fill="#451077"/>
<rect x="2655.7" y="1376.7" width="69.3" height="30.2" fill="#5a167e"/>
<rect x="2725" y="1376.7" width="138.6" height="30.2" fill="#451077"/>
<rect x="229.5" y="1406.4" width="138.6" height="30.2" fill="#2f1163"/>
<rect x="368.1" y="1406.4" width="69.3" height="30.2" fill="#451077"/>
<rect x="437.5" y="1406.4" width="69.3" height="30.2" fill="#2f1163"/>
<rect x="506.8" y="1406.4" width="138.6" height="30.2" fill="#451077"/>
<rect x="645.4" y="1406.4" width="69.3" height="30.2" fill="#2f1163"/>
<rect x="714.7" y="1406.4" width="208" height="30.2" fill="#451077"/>
<rect x="922.7" y="1406.4" width="208" height="30.2" fill="#2f1163"/>
<rect x="1130.7" y="1406.4" width="69.3" height="30.2" fill="#451077"/>
<rect x="1200" y="1406.4" width="138.6" height="30.2" fill="#2f1163"/>
<rect x="1338.6" y="1406.4" width="1525" height="30.2" fill="#451077"/>
<rect x="229.5" y="1436.1" width="69.3" height="30.2" fill="#2f1163"/>
<rect x="298.8" y="1436.1" width="623.9" height="30.2" fill="#451077"/>
<rect x="922.7" y="1436.1" width="69.3" height="30.2" fill="#2f1163"/>
<rect x="992" y="1436.1" width="277.3" height="30.2" fill="#451077"/>
<rect x="1269.3" y="1436.1" width="69.3" height="30.2" fill="#2f1163"/>
<rect x="1338.6" y="1436.1" width="208" height="30.2" fill="#5a167e"/>
<rect x="1546.6" y="1436.1" width="623.9" height="30.2" fill="#451077"/>
<rect x="2170.5" y="1436.1" width="138.6" height="30.2" fill="#5a167e"/>
<rect x="2309.1" y="1436.1" width="554.6" height="30.2" fill="#451077"/>
<rect x="229.5" y="1465.8" width="69.3" height="30.2" fill="#2f1163"/>
<rect x="298.8" y="1465.8" width="623.9" height="30.2" fill="#451077"/>
<rect x="922.7" y="1465.8" width="69.3" height="30.2" fill="#2f1163"/>
<rect x="992" y="1465.8" width="277.3" height="30.2" fill="#451077"/>
<rect x="1269.3" y="1465.8" width="69.3" height="30.2" fill="#2f1163"/>
<rect x="1338.6" y="1465.8" width="138.6" height="30.2" fill="#5a167e"/>
<rect x="1477.3" y="1465.8" width="623.9" height="30.2" fill="#451077"/>
<rect x="2101.1" y="1465.8" width="69.3" height="30.2" fill="#5a167e"/>
<rect x="2170.5" y="1465.8" width="208" height="30.2" fill="#451077"/>
<rect x="2378.4" y="1465.8" width="69.3" height="30.2" fill="#5a167e"/>
<rect x="2447.7" y="1465.8" width="69.3" height="30.2" fill="#451077"/>
<rect x="2517.1" y="1465.8" width="69.3" height="30.2" fill="#5a167e"/>
<rect x="2586.4" y="1465.8" width="277.3" height="30.2" fill="#451077"/>
<rect x="229.5" y="1495.5" width="69.3" height="30.2" fill="#2f1163"/>
<rect x="298.8" y="1495.5" width="623.9" height="30.2" fill="#451077"/>
<rect x="922.7" y="1495.5" width="69.3" height="30.2" fill="#2f1163"/>
<rect x="992" y="1495.5" width="208" height="30.2" fill="#451077"/>
<rect x="1200" y="1495.5" width="138.6" height="30.2" fill="#2f1163"/>
<rect x="1338.6" y="1495.5" width="69.3" height="30.2" fill="#5a167e"/>
<rect x="1407.9" y="1495.5" width="208" height="30.2" fill="#451077"/>
<rect x="1615.9" y="1495.5" width="69.3" height="30.2" fill="#5a167e"/>
<rect x="1685.2" y="1495.5" width="415.9" height="30.2" fill="#451077"/>
<rect x="2101.1" y="1495.5" width="69.3" height="30.2" fill="#5a167e"/>
<rect x="2170.5" y="1495.5" width="346.6" height="30.2" fill="#451077"/>
<rect x="2517.1" y="1495.5" width="69.3" height="30.2" fill="#5a167e"/>
<rect x="2586.4" y="1495.5" width="138.6" height="30.2" fill="#451077"/>
<rect x="2725" y="1495.5" width="69.3" height="30.2" fill="#2f1163"/>
<rect x="2794.3" y="1495.5" width="69.3" height="30.2" fill="#451077"/>
<rect x="229.5" y="1525.1" width="69.3" height="30.2" fill="#701f81"/>
<rect x="298.8" y="1525.1" width="138.6" height="30.2" fill="#2f1163"/>
<rect x="437.5" y="1525.1" width="69.3" height="30.2" fill="#451077"/>
<rect x="506.8" y="1525.1" width="415.9" height="30.2" fill="#2f1163"/>
<rect x="922.7" y="1525.1" width="69.3" height="30.2" fill="#1c1044"/>
<rect x="992" y="1525.1" width="277.3" height="30.2" fill="#2f1163"/>
<rect x="1269.3" y="1525.1" width="69.3" height="30.2" fill="#1c1044"/>
<rect x="1338.6" y="1525.1" width="208" height="30.2" fill="#451077"/>
<rect x="1546.6" y="1525.1" width="69.3" height="30.2" fill="#5a167e"/>
<rect x="1615.9" y="1525.1" width="346.6" height="30.2" fill="#451077"/>
<rect x="1962.5" y="1525.1" width="138.6" height="30.2" fill="#2f1163"/>
<rect x="2101.1" y="1525.1" width="415.9" height="30.2" fill="#451077"/>
<rect x="2517.1" y="1525.1" width="69.3" height="30.2" fill="#2f1163"/>
<rect x="2586.4" y="1525.1" width="138.6" height="30.2" fill="#451077"/>
<rect x="2725" y="1525.1" width="69.3" height="30.2" fill="#1c1044"/>
<rect x="2794.3" y="1525.1" width="69.3" height="30.2" fill="#451077"/>
<rect x="229.5" y="1554.8" width="69.3" height="30.2" fill="#701f81"/>
<rect x="298.8" y="1554.8" width="138.6" height="30.2" fill="#2f1163"/>
<rect x="437.5" y="1554.8" width="69.3" height="30.2" fill="#451077"/>
<rect x="506.8" y="1554.8" width="208" height="30.2" fill="#2f1163"/>
<rect x="714.7" y="1554.8" width="69.3" height="30.2" fill="#451077"/>
<rect x="784.1" y="1554.8" width="623.9" height="30.2" fill="#2f1163"/>
<rect x="1407.9" y="1554.8" width="485.2" height="30.2" fill="#451077"/>
<rect x="1893.2" y="1554.8" width="69.3" height="30.2" fill="#2f1163"/>
<rect x="1962.5" y="1554.8" width="208" height="30.2" fill="#451077"/>
<rect x="2170.5" y="1554.8" width="69.3" height="30.2" fill="#2f1163"/>
<rect x="2239.8" y="1554.8" width="277.3" height="30.2" fill="#451077"/>
<rect x="2517.1" y="1554.8" width="138.6" height="30.2" fill="#2f1163"/>
<rect x="2655.7" y="1554.8" width="69.3" height="30.2" fill="#451077"/>
<rect x="2725" y="1554.8" width="69.3" height="30.2" fill="#2f1163"/>
<rect x="2794.3" y="1554.8" width="69.3" height="30.2" fill="#451077"/>
<rect x="229.5" y="1584.5" width="69.3" height="30.2" fill="#5a167e"/>
<rect x="298.8" y="1584.5" width="138.6" height="30.2" fill="#2f1163"/>
<rect x="437.5" y="1584.5" width="69.3" height="30.2" fill="#451077"/>
<rect x="506.8" y="1584.5" width="415.9" height="30.2" fill="#2f1163"/>
<rect x="922.7" y="1584.5" width="69.3" height="30.2" fill="#1c1044"/>
<rect x="992" y="1584.5" width="485.2" height="30.2" fill="#2f1163"/>
<rect x="1477.3" y="1584.5" width="346.6" height="30.2" fill="#451077"/>
<rect x="1823.9" y="1584.5" width="208" height="30.2" fill="#2f1163"/>
<rect x="2031.8" y="1584.5" width="485.2" height="30.2" fill="#451077"/>
<rect x="2517.1" y="1584.5" width="69.3" height="30.2" fill="#2f1163"/>
<rect x="2586.4" y="1584.5" width="138.6" height="30.2" fill="#451077"/>
<rect x="2725" y="1584.5" width="69.3" height="30.2" fill="#2f1163"/>
<rect x="2794.3" y="1584.5" width="69.3" height="30.2" fill="#451077"/>
<rect x="229.5" y="1614.2" width="69.3" height="30.2" fill="#5a167e"/>
<rect x="298.8" y="1614.2" width="415.9" height="30.2" fill="#2f1163"/>
<rect x="714.7" y="1614.2" width="69.3" height="30.2" fill="#451077"/>
<rect x="784.1" y="1614.2" width="138.6" height="30.2" fill="#2f1163"/>
<rect x="922.7" y="1614.2" width="69.3" height="30.2" fill="#1c1044"/>
<rect x="992" y="1614.2" width="346.6" height="30.2" fill="#2f1163"/>
<rect x="1338.6" y="1614.2" width="1386.4" height="30.2" fill="#451077"/>
<rect x="2725" y="1614.2" width="69.3" height="30.2" fill="#2f1163"/>
<rect x="2794.3" y="1614.2" width="69.3" height="30.2" fill="#451077"/>
<rect x="229.5" y="1643.9" width="277.3" height="30.2" fill="#2f1163"/>
<rect x="506.8" y="1643.9" width="69.3" height="30.2" fill="#451077"/>
<rect x="576.1" y="1643.9" width="138.6" height="30.2" fill="#2f1163"/>
<rect x="714.7" y="1643.9" width="69.3" height="30.2" fill="#451077"/>
<rect x="784.1" y="1643.9" width="208" height="30.2" fill="#2f1163"/>
<rect x="992" y="1643.9" width="138.6" height="30.2" fill="#451077"/>
<rect x="1130.7" y="1643.9" width="208" height="30.2" fill="#2f1163"/>
<rect x="1338.6" y="1643.9" width="346.6" height="30.2" fill="#451077"/>
<rect x="1685.2" y="1643.9" width="69.3" height="30.2" fill="#2f1163"/>
<rect x="1754.5" y="1643.9" width="138.6" height="30.2" fill="#451077"/>
<rect x="1893.2" y="1643.9" width="69.3" height="30.2" fill="#2f1163"/>
<rect x="1962.5" y="1643.9" width="346.6" height="30.2" fill="#451077"/>
<rect x="2309.1" y="1643.9" width="69.3" height="30.2" fill="#2f1163"/>
<rect x="2378.4" y="1643.9" width="277.3" height="30.2" fill="#451077"/>
<rect x="2655.7" y="1643.9" width="69.3" height="30.2" fill="#2f1163"/>
<rect x="2725" y="1643.9" width="138.6" height="30.2" fill="#451077"/>
<rect x="229.5" y="1673.6" width="277.3" height="30.2" fill="#2f1163"/>
<rect x="506.8" y="1673.6" width="208" height="30.2" fill="#451077"/>
<rect x="714.7" y="1673.6" width="69.3" height="30.2" fill="#2f1163"/>
<rect x="784.1" y="1673.6" width="69.3" height="30.2" fill="#451077"/>
<rect x="853.4" y="1673.6" width="138.6" height="30.2" fill="#2f1163"/>
<rect x="992" y="1673.6" width="208" height="30.2" fill="#451077"/>
<rect x="1200" y="1673.6" width="138.6" height="30.2" fill="#2f1163"/>
<rect x="1338.6" y="1673.6" width="208" height="30.2" fill="#451077"/>
<rect x="1546.6" y="1673.6" width="69.3" height="30.2" fill="#2f1163"/>
<rect x="1615.9" y="1673.6" width="69.3" height="30.2" fill="#451077"/>
<rect x="1685.2" y="1673.6" width="208" height="30.2" fill="#2f1163"/>
<rect x="1893.2" y="1673.6" width="138.6" height="30.2" fill="#451077"/>
<rect x="2031.8" y="1673.6" width="69.3" height="30.2" fill="#2f1163"/>
<rect x="2101.1" y="1673.6" width="69.3" height="30.2" fill="#451077"/>
<rect x="2170.5" y="1673.6" width="138.6" height="30.2" fill="#2f1163"/>
<rect x="2309.1" y="1673.6" width="208" height="30.2" fill="#451077"/>
<rect x="2517.1" y="1673.6" width="346.6" height="30.2" fill="#2f1163"/>
<rect x="229.5" y="1703.3" width="277.3" height="30.2" fill="#2f1163"/>
<rect x="506.8" y="1703.3" width="138.6" height="30.2" fill="#451077"/>
<rect x="645.4" y="1703.3" width="69.3" height="30.2" fill="#2f1163"/>
<rect x="714.7" y="1703.3" width="208" height="30.2" fill="#451077"/>
<rect x="922.7" y="1703.3" width="415.9" height="30.2" fill="#2f1163"/>
<rect x="1338.6" y="1703.3" width="346.6" height="30.2" fill="#451077"/>
<rect x="1685.2" y="1703.3" width="208" height="30.2" fill="#2f1163"/>
<rect x="1893.2" y="1703.3" width="901.2" height="30.2" fill="#451077"/>
<rect x="2794.3" y="1703.3" width="69.3" height="30.2" fill="#2f1163"/>
<rect x="229.5" y="1733" width="69.3" height="30.2" fill="#5a167e"/>
<rect x="298.8" y="1733" width="138.6" height="30.2" fill="#451077"/>
<rect x="437.5" y="1733" width="277.3" height="30.2" fill="#2f1163"/>
<rect x="714.7" y="1733" width="208" height="30.2" fill="#451077"/>
<rect x="922.7" y="1733" width="415.9" height="30.2" fill="#2f1163"/>
<rect x="1338.6" y="1733" width="208" height="30.2" fill="#451077"/>
<rect x="1546.6" y="1733" width="69.3" height="30.2" fill="#2f1163"/>
<rect x="1615.9" y="1733" width="277.3" height="30.2" fill="#451077"/>
<rect x="1893.2" y="1733" width="69.3" height="30.2" fill="#2f1163"/>
<rect x="1962.5" y="1733" width="346.6" height="30.2" fill="#451077"/>
<rect x="2309.1" y="1733" width="138.6" height="30.2" fill="#2f1163"/>
<rect x="2447.7" y="1733" width="208" height="30.2" fill="#451077"/>
<rect x="2655.7" y="1733" width="69.3" height="30.2" fill="#2f1163"/>
<rect x="2725" y="1733" width="138.6" height="30.2" fill="#451077"/>
<rect x="229.5" y="1762.6" width="69.3" height="30.2" fill="#451077"/>
<rect x="298.8" y="1762.6" width="208" height="30.2" fill="#2f1163"/>
<rect x="506.8" y="1762.6" width="415.9" height="30.2" fill="#451077"/>
<rect x="922.7" y="1762.6" width="69.3" height="30.2" fill="#2f1163"/>
<rect x="992" y="1762.6" width="277.3" height="30.2" fill="#451077"/>
<rect x="1269.3" y="1762.6" width="69.3" height="30.2" fill="#2f1163"/>
<rect x="1338.6" y="1762.6" width="346.6" height="30.2" fill="#451077"/>
<rect x="1685.2" y="1762.6" width="69.3" height="30.2" fill="#2f1163"/>
<rect x="1754.5" y="1762.6" width="970.5" height="30.2" fill="#451077"/>
<rect x="2725" y="1762.6" width="69.3" height="30.2" fill="#2f1163"/>
<rect x="2794.3" y="1762.6" width="69.3" height="30.2" fill="#451077"/>
<rect x="229.5" y="1792.3" width="69.3" height="30.2" fill="#5a167e"/>
<rect x="298.8" y="1792.3" width="277.3" height="30.2" fill="#2f1163"/>
<rect x="576.1" y="1792.3" width="208" height="30.2" fill="#451077"/>
<rect x="784.1" y="1792.3" width="346.6" height="30.2" fill="#2f1163"/>
<rect x="1130.7" y="1792.3" width="69.3" height="30.2" fill="#451077"/>
<rect x="1200" y="1792.3" width="138.6" height="30.2" fill="#2f1163"/>
<rect x="1338.6" y="1792.3" width="208" height="30.2" fill="#451077"/>
<rect x="1546.6" y="1792.3" width="138.6" height="30.2" fill="#2f1163"/>
<rect x="1685.2" y="1792.3" width="346.6" height="30.2" fill="#451077"/>
<rect x="2031.8" y="1792.3" width="138.6" height="30.2" fill="#2f1163"/>
<rect x="2170.5" y="1792.3" width="138.6" height="30.2" fill="#451077"/>
<rect x="2309.1" y="1792.3" width="69.3" height="30.2" fill="#2f1163"/>
<rect x="2378.4" y="1792.3" width="346.6" height="30.2" fill="#451077"/>
<rect x="2725" y="1792.3" width="69.3" height="30.2" fill="#2f1163"/>
<rect x="2794.3" y="1792.3" width="69.3" height="30.2" fill="#451077"/>
<rect x="229.5" y="1822" width="69.3" height="30.2" fill="#5a167e"/>
<rect x="298.8" y="1822" width="138.6" height="30.2" fill="#451077"/>
<rect x="437.5" y="1822" width="208" height="30.2" fill="#2f1163"/>
<rect x="645.4" y="1822" width="69.3" height="30.2" fill="#451077"/>
<rect x="714.7" y="1822" width="69.3" height="30.2" fill="#2f1163"/>
<rect x="784.1" y="1822" width="69.3" height="30.2" fill="#451077"/>
<rect x="853.4" y="1822" width="69.3" height="30.2" fill="#2f1163"/>
<rect x="922.7" y="1822" width="69.3" height="30.2" fill="#1c1044"/>
<rect x="992" y="1822" width="69.3" height="30.2" fill="#2f1163"/>
<rect x="1061.3" y="1822" width="69.3" height="30.2" fill="#451077"/>
<rect x="1130.7" y="1822" width="138.6" height="30.2" fill="#2f1163"/>
<rect x="1269.3" y="1822" width="623.9" height="30.2" fill="#451077"/>
<rect x="1893.2" y="1822" width="69.3" height="30.2" fill="#2f1163"/>
<rect x="1962.5" y="1822" width="901.2" height="30.2" fill="#451077"/>
<rect x="229.5" y="1851.7" width="69.3" height="30.2" fill="#5a167e"/>
<rect x="298.8" y="1851.7" width="69.3" height="30.2" fill="#2f1163"/>
<rect x="368.1" y="1851.7" width="138.6" height="30.2" fill="#451077"/>
<rect x="506.8" y="1851.7" width="831.8" height="30.2" fill="#2f1163"/>
<rect x="1338.6" y="1851.7" width="69.3" height="30.2" fill="#451077"/>
<rect x="1407.9" y="1851.7" width="69.3" height="30.2" fill="#2f1163"/>
<rect x="1477.3" y="1851.7" width="762.5" height="30.2" fill="#451077"/>
<rect x="2239.8" y="1851.7" width="69.3" height="30.2" fill="#2f1163"/>
<rect x="2309.1" y="1851.7" width="208" height="30.2" fill="#451077"/>
<rect x="2517.1" y="1851.7" width="138.6" height="30.2" fill="#2f1163"/>
<rect x="2655.7" y="1851.7" width="69.3" height="30.2" fill="#451077"/>
<rect x="2725" y="1851.7" width="69.3" height="30.2" fill="#2f1163"/>
<rect x="2794.3" y="1851.7" width="69.3" height="30.2" fill="#451077"/>
<rect x="229.5" y="1881.4" width="277.3" height="30.2" fill="#451077"/>
<rect x="506.8" y="1881.4" width="69.3" height="30.2" fill="#2f1163"/>
<rect x="576.1" y="1881.4" width="69.3" height="30.2" fill="#451077"/>
<rect x="645.4" y="1881.4" width="693.2" height="30.2" fill="#2f1163"/>
<rect x="1338.6" y="1881.4" width="277.3" height="30.2" fill="#451077"/>
<rect x="1615.9" y="1881.4" width="69.3" height="30.2" fill="#2f1163"/>
<rect x="1685.2" y="1881.4" width="623.9" height="30.2" fill="#451077"/>
<rect x="2309.1" y="1881.4" width="69.3" height="30.2" fill="#2f1163"/>
<rect x="2378.4" y="1881.4" width="485.2" height="30.2" fill="#451077"/>
<rect x="229.5" y="1911.1" width="69.3" height="30.2" fill="#451077"/>
<rect x="298.8" y="1911.1" width="69.3" height="30.2" fill="#2f1163"/>
<rect x="368.1" y="1911.1" width="69.3" height="30.2" fill="#451077"/>
<rect x="437.5" y="1911.1" width="346.6" height="30.2" fill="#2f1163"/>
<rect x="784.1" y="1911.1" width="69.3" height="30.2" fill="#451077"/>
<rect x="853.4" y="1911.1" width="485.2" height="30.2" fill="#2f1163"/>
<rect x="1338.6" y="1911.1" width="554.6" height="30.2" fill="#451077"/>
<rect x="1893.2" y="1911.1" width="69.3" height="30.2" fill="#2f1163"/>
<rect x="1962.5" y="1911.1" width="277.3" height="30.2" fill="#451077"/>
<rect x="2239.8" y="1911.1" width="138.6" height="30.2" fill="#2f1163"/>
<rect x="2378.4" y="1911.1" width="208" height="30.2" fill="#451077"/>
<rect x="2586.4" y="1911.1" width="69.3" height="30.2" fill="#2f1163"/>
<rect x="2655.7" y="1911.1" width="69.3" height="30.2" fill="#451077"/>
<rect x="2725" y="1911.1" width="69.3" height="30.2" fill="#2f1163"/>
<rect x="2794.3" y="1911.1" width="69.3" height="30.2" fill="#451077"/>
<rect x="229.5" y="1940.8" width="69.3" height="30.2" fill="#451077"/>
<rect x="298.8" y="1940.8" width="208" height="30.2" fill="#2f1163"/>
<rect x="506.8" y="1940.8" width="69.3" height="30.2" fill="#451077"/>
<rect x="576.1" y="1940.8" width="138.6" height="30.2" fill="#2f1163"/>
<rect x="714.7" y="1940.8" width="69.3" height="30.2" fill="#451077"/>
<rect x="784.1" y="1940.8" width="554.6" height="30.2" fill="#2f1163"/>
<rect x="1338.6" y="1940.8" width="415.9" height="30.2" fill="#451077"/>
<rect x="1754.5" y="1940.8" width="69.3" height="30.2" fill="#2f1163"/>
<rect x="1823.9" y="1940.8" width="346.6" height="30.2" fill="#451077"/>
<rect x="2170.5" y="1940.8" width="69.3" height="30.2" fill="#2f1163"/>
<rect x="2239.8" y="1940.8" width="346.6" height="30.2" fill="#451077"/>
<rect x="2586.4" y="1940.8" width="277.3" height="30.2" fill="#2f1163"/>
<rect x="229.5" y="1970.4" width="69.3" height="30.2" fill="#5a167e"/>
<rect x="298.8" y="1970.4" width="415.9" height="30.2" fill="#2f1163"/>
<rect x="714.7" y="1970.4" width="138.6" height="30.2" fill="#451077"/>
<rect x="853.4" y="1970.4" width="485.2" height="30.2" fill="#2f1163"/>
<rect x="1338.6" y="1970.4" width="693.2" height="30.2" fill="#451077"/>
<rect x="2031.8" y="1970.4" width="69.3" height="30.2" fill="#2f1163"/>
<rect x="2101.1" y="1970.4" width="69.3" height="30.2" fill="#451077"/>
<rect x="2170.5" y="1970.4" width="69.3" height="30.2" fill="#2f1163"/>
<rect x="2239.8" y="1970.4" width="69.3" height="30.2" fill="#451077"/>
<rect x="2309.1" y="1970.4" width="69.3" height="30.2" fill="#2f1163"/>
<rect x="2378.4" y="1970.4" width="138.6" height="30.2" fill="#451077"/>
<rect x="2517.1" y="1970.4" width="277.3" height="30.2" fill="#2f1163"/>
<rect x="2794.3" y="1970.4" width="69.3" height="30.2" fill="#451077"/>
<rect x="229.5" y="2000.1" width="69.3" height="30.2" fill="#451077"/>
<rect x="298.8" y="2000.1" width="1039.8" height="30.2" fill="#2f1163"/>
<rect x="1338.6" y="2000.1" width="485.2" height="30.2" fill="#451077"/>
<rect x="1823.9" y="2000.1" width="69.3" height="30.2" fill="#2f1163"/>
<rect x="1893.2" y="2000.1" width="554.6" height="30.2" fill="#451077"/>
<rect x="2447.7" y="2000.1" width="69.3" height="30.2" fill="#2f1163"/>
<rect x="2517.1" y="2000.1" width="69.3" height="30.2" fill="#451077"/>
<rect x="2586.4" y="2000.1" width="69.3" height="30.2" fill="#2f1163"/>
<rect x="2655.7" y="2000.1" width="69.3" height="30.2" fill="#451077"/>
<rect x="2725" y="2000.1" width="69.3" height="30.2" fill="#2f1163"/>
<rect x="2794.3" y="2000.1" width="69.3" height="30.2" fill="#451077"/>
<rect x="229.5" y="2029.8" width="69.3" height="30.2" fill="#451077"/>
<rect x="298.8" y="2029.8" width="346.6" height="30.2" fill="#2f1163"/>
<rect x="645.4" y="2029.8" width="69.3" height="30.2" fill="#451077"/>
<rect x="714.7" y="2029.8" width="138.6" height="30.2" fill="#2f1163"/>
<rect x="853.4" y="2029.8" width="69.3" height="30.2" fill="#451077"/>
<rect x="922.7" y="2029.8" width="415.9" height="30.2" fill="#2f1163"/>
<rect x="1338.6" y="2029.8" width="485.2" height="30.2" fill="#451077"/>
<rect x="1823.9" y="2029.8" width="138.6" height="30.2" fill="#2f1163"/>
<rect x="1962.5" y="2029.8" width="208" height="30.2" fill="#451077"/>
<rect x="2170.5" y="2029.8" width="69.3" height="30.2" fill="#2f1163"/>
<rect x="2239.8" y="2029.8" width="208" height="30.2" fill="#451077"/>
<rect x="2447.7" y="2029.8" width="69.3" height="30.2" fill="#2f1163"/>
<rect x="2517.1" y="2029.8" width="208" height="30.2" fill="#451077"/>
<rect x="2725" y="2029.8" width="69.3" height="30.2" fill="#2f1163"/>
<rect x="2794.3" y="2029.8" width="69.3" height="30.2" fill="#451077"/>
<rect x="229.5" y="2059.5" width="69.3" height="30.2" fill="#451077"/>
<rect x="298.8" y="2059.5" width="277.3" height="30.2" fill="#2f1163"/>
<rect x="576.1" y="2059.5" width="346.6" height="30.2" fill="#451077"/>
<rect x="922.7" y="2059.5" width="415.9" height="30.2" fill="#2f1163"/>
<rect x="1338.6" y="2059.5" width="346.6" height="30.2" fill="#451077"/>
<rect x="1685.2" y="2059.5" width="69.3" height="30.2" fill="#2f1163"/>
<rect x="1754.5" y="2059.5" width="415.9" height="30.2" fill="#451077"/>
<rect x="2170.5" y="2059.5" width="69.3" height="30.2" fill="#2f1163"/>
<rect x="2239.8" y="2059.5" width="346.6" height="30.2" fill="#451077"/>
<rect x="2586.4" y="2059.5" width="69.3" height="30.2" fill="#2f1163"/>
<rect x="2655.7" y="2059.5" width="69.3" height="30.2" fill="#451077"/>
<rect x="2725" y="2059.5" width="69.3" height="30.2" fill="#2f1163"/>
<rect x="2794.3" y="2059.5" width="69.3" height="30.2" fill="#451077"/>
<rect x="229.5" y="2089.2" width="69.3" height="30.2" fill="#701f81"/>
<rect x="298.8" y="2089.2" width="277.3" height="30.2" fill="#5a167e"/>
<rect x="576.1" y="2089.2" width="346.6" height="30.2" fill="#701f81"/>
<rect x="922.7" y="2089.2" width="69.3" height="30.2" fill="#451077"/>
<rect x="992" y="2089.2" width="346.6" height="30.2" fill="#5a167e"/>
<rect x="1338.6" y="2089.2" width="1386.4" height="30.2" fill="#701f81"/>
<rect x="2725" y="2089.2" width="138.6" height="30.2" fill="#5a167e"/>
<rect x="229.5" y="2118.9" width="69.3" height="30.2" fill="#842681"/>
<rect x="298.8" y="2118.9" width="138.6" height="30.2" fill="#5a167e"/>
<rect x="437.5" y="2118.9" width="415.9" height="30.2" fill="#701f81"/>
<rect x="853.4" y="2118.9" width="485.2" height="30.2" fill="#5a167e"/>
<rect x="1338.6" y="2118.9" width="554.6" height="30.2" fill="#701f81"/>
<rect x="1893.2" y="2118.9" width="69.3" height="30.2" fill="#842681"/>
<rect x="1962.5" y="2118.9" width="762.5" height="30.2" fill="#701f81"/>
<rect x="2725" y="2118.9" width="69.3" height="30.2" fill="#5a167e"/>
<rect x="2794.3" y="2118.9" width="69.3" height="30.2" fill="#701f81"/>
<rect x="229.5" y="2148.6" width="69.3" height="30.2" fill="#842681"/>
<rect x="298.8" y="2148.6" width="138.6" height="30.2" fill="#5a167e"/>
<rect x="437.5" y="2148.6" width="69.3" height="30.2" fill="#701f81"/>
<rect x="506.8" y="2148.6" width="208" height="30.2" fill="#5a167e"/>
<rect x="714.7" y="2148.6" width="208" height="30.2" fill="#701f81"/>
<rect x="922.7" y="2148.6" width="208" height="30.2" fill="#5a167e"/>
<rect x="1130.7" y="2148.6" width="69.3" height="30.2" fill="#701f81"/>
<rect x="1200" y="2148.6" width="138.6" height="30.2" fill="#5a167e"/>
<rect x="1338.6" y="2148.6" width="1386.4" height="30.2" fill="#701f81"/>
<rect x="2725" y="2148.6" width="69.3" height="30.2" fill="#5a167e"/>
<rect x="2794.3" y="2148.6" width="69.3" height="30.2" fill="#701f81"/>
<rect x="229.5" y="2178.3" width="69.3" height="30.2" fill="#842681"/>
<rect x="298.8" y="2178.3" width="69.3" height="30.2" fill="#451077"/>
<rect x="368.1" y="2178.3" width="277.3" height="30.2" fill="#5a167e"/>
<rect x="645.4" y="2178.3" width="69.3" height="30.2" fill="#451077"/>
<rect x="714.7" y="2178.3" width="69.3" height="30.2" fill="#5a167e"/>
<rect x="784.1" y="2178.3" width="69.3" height="30.2" fill="#701f81"/>
<rect x="853.4" y="2178.3" width="69.3" height="30.2" fill="#5a167e"/>
<rect x="922.7" y="2178.3" width="208" height="30.2" fill="#451077"/>
<rect x="1130.7" y="2178.3" width="69.3" height="30.2" fill="#5a167e"/>
<rect x="1200" y="2178.3" width="138.6" height="30.2" fill="#451077"/>
<rect x="1338.6" y="2178.3" width="138.6" height="30.2" fill="#5a167e"/>
<rect x="1477.3" y="2178.3" width="346.6" height="30.2" fill="#701f81"/>
<rect x="1823.9" y="2178.3" width="277.3" height="30.2" fill="#5a167e"/>
<rect x="2101.1" y="2178.3" width="138.6" height="30.2" fill="#701f81"/>
<rect x="2239.8" y="2178.3" width="69.3" height="30.2" fill="#5a167e"/>
<rect x="2309.1" y="2178.3" width="277.3" height="30.2" fill="#701f81"/>
<rect x="2586.4" y="2178.3" width="69.3" height="30.2" fill="#5a167e"/>
<rect x="2655.7" y="2178.3" width="69.3" height="30.2" fill="#701f81"/>
<rect x="2725" y="2178.3" width="69.3" height="30.2" fill="#451077"/>
<rect x="2794.3" y="2178.3" width="69.3" height="30.2" fill="#5a167e"/>
<rect x="229.5" y="2207.9" width="69.3" height="30.2" fill="#701f81"/>
<rect x="298.8" y="2207.9" width="138.6" height="30.2" fill="#451077"/>
<rect x="437.5" y="2207.9" width="346.6" height="30.2" fill="#5a167e"/>
<rect x="784.1" y="2207.9" width="69.3" height="30.2" fill="#701f81"/>
<rect x="853.4" y="2207.9" width="277.3" height="30.2" fill="#5a167e"/>
<rect x="1130.7" y="2207.9" width="69.3" height="30.2" fill="#701f81"/>
<rect x="1200" y="2207.9" width="138.6" height="30.2" fill="#5a167e"/>
<rect x="1338.6" y="2207.9" width="208" height="30.2" fill="#701f81"/>
<rect x="1546.6" y="2207.9" width="346.6" height="30.2" fill="#5a167e"/>
<rect x="1893.2" y="2207.9" width="69.3" height="30.2" fill="#701f81"/>
<rect x="1962.5" y="2207.9" width="415.9" height="30.2" fill="#5a167e"/>
<rect x="2378.4" y="2207.9" width="138.6" height="30.2" fill="#701f81"/>
<rect x="2517.1" y="2207.9" width="346.6" height="30.2" fill="#5a167e"/>
<rect x="229.5" y="2237.6" width="69.3" height="30.2" fill="#701f81"/>
<rect x="298.8" y="2237.6" width="485.2" height="30.2" fill="#5a167e"/>
<rect x="784.1" y="2237.6" width="69.3" height="30.2" fill="#701f81"/>
<rect x="853.4" y="2237.6" width="138.6" height="30.2" fill="#5a167e"/>
<rect x="992" y="2237.6" width="69.3" height="30.2" fill="#451077"/>
<rect x="1061.3" y="2237.6" width="277.3" height="30.2" fill="#5a167e"/>
<rect x="1338.6" y="2237.6" width="346.6" height="30.2" fill="#701f81"/>
<rect x="1685.2" y="2237.6" width="693.2" height="30.2" fill="#5a167e"/>
<rect x="2378.4" y="2237.6" width="69.3" height="30.2" fill="#701f81"/>
<rect x="2447.7" y="2237.6" width="69.3" height="30.2" fill="#5a167e"/>
<rect x="2517.1" y="2237.6" width="69.3" height="30.2" fill="#701f81"/>
<rect x="2586.4" y="2237.6" width="208" height="30.2" fill="#5a167e"/>
<rect x="2794.3" y="2237.6" width="69.3" height="30.2" fill="#701f81"/>
<rect x="229.5" y="2267.3" width="69.3" height="30.2" fill="#842681"/>
<rect x="298.8" y="2267.3" width="138.6" height="30.2" fill="#5a167e"/>
<rect x="437.5" y="2267.3" width="69.3" height="30.2" fill="#701f81"/>
<rect x="506.8" y="2267.3" width="69.3" height="30.2" fill="#5a167e"/>
<rect x="576.1" y="2267.3" width="138.6" height="30.2" fill="#451077"/>
<rect x="714.7" y="2267.3" width="208" height="30.2" fill="#5a167e"/>
<rect x="922.7" y="2267.3" width="69.3" height="30.2" fill="#701f81"/>
<rect x="992" y="2267.3" width="138.6" height="30.2" fill="#451077"/>
<rect x="1130.7" y="2267.3" width="485.2" height="30.2" fill="#5a167e"/>
<rect x="1615.9" y="2267.3" width="69.3" height="30.2" fill="#701f81"/>
<rect x="1685.2" y="2267.3" width="138.6" height="30.2" fill="#5a167e"/>
<rect x="1823.9" y="2267.3" width="69.3" height="30.2" fill="#701f81"/>
<rect x="1893.2" y="2267.3" width="415.9" height="30.2" fill="#5a167e"/>
<rect x="2309.1" y="2267.3" width="208" height="30.2" fill="#451077"/>
<rect x="2517.1" y="2267.3" width="69.3" height="30.2" fill="#5a167e"/>
<rect x="2586.4" y="2267.3" width="69.3" height="30.2" fill="#701f81"/>
<rect x="2655.7" y="2267.3" width="69.3" height="30.2" fill="#5a167e"/>
<rect x="2725" y="2267.3" width="138.6" height="30.2" fill="#842681"/>
<rect x="229.5" y="2297" width="69.3" height="30.2" fill="#992d80"/>
<rect x="298.8" y="2297" width="69.3" height="30.2" fill="#701f81"/>
<rect x="368.1" y="2297" width="69.3" height="30.2" fill="#842681"/>
<rect x="437.5" y="2297" width="69.3" height="30.2" fill="#701f81"/>
<rect x="506.8" y="2297" width="277.3" height="30.2" fill="#5a167e"/>
<rect x="784.1" y="2297" width="138.6" height="30.2" fill="#701f81"/>
<rect x="922.7" y="2297" width="69.3" height="30.2" fill="#5a167e"/>
<rect x="992" y="2297" width="69.3" height="30.2" fill="#451077"/>
<rect x="1061.3" y="2297" width="138.6" height="30.2" fill="#5a167e"/>
<rect x="1200" y="2297" width="208" height="30.2" fill="#701f81"/>
<rect x="1407.9" y="2297" width="69.3" height="30.2" fill="#5a167e"/>
<rect x="1477.3" y="2297" width="346.6" height="30.2" fill="#701f81"/>
<rect x="1823.9" y="2297" width="69.3" height="30.2" fill="#5a167e"/>
<rect x="1893.2" y="2297" width="69.3" height="30.2" fill="#701f81"/>
<rect x="1962.5" y="2297" width="138.6" height="30.2" fill="#5a167e"/>
<rect x="2101.1" y="2297" width="69.3" height="30.2" fill="#701f81"/>
<rect x="2170.5" y="2297" width="346.6" height="30.2" fill="#5a167e"/>
<rect x="2517.1" y="2297" width="69.3" height="30.2" fill="#842681"/>
<rect x="2586.4" y="2297" width="138.6" height="30.2" fill="#701f81"/>
<rect x="2725" y="2297" width="138.6" height="30.2" fill="#992d80"/>
<rect x="229.5" y="2326.7" width="69.3" height="30.2" fill="#451077"/>
<rect x="298.8" y="2326.7" width="138.6" height="30.2" fill="#5a167e"/>
<rect x="437.5" y="2326.7" width="69.3" height="30.2" fill="#451077"/>
<rect x="506.8" y="2326.7" width="69.3" height="30.2" fill="#5a167e"/>
<rect x="576.1" y="2326.7" width="208" height="30.2" fill="#451077"/>
<rect x="784.1" y="2326.7" width="208" height="30.2" fill="#5a167e"/>
<rect x="992" y="2326.7" width="138.6" height="30.2" fill="#451077"/>
<rect x="1130.7" y="2326.7" width="554.6" height="30.2" fill="#5a167e"/>
<rect x="1685.2" y="2326.7" width="69.3" height="30.2" fill="#451077"/>
<rect x="1754.5" y="2326.7" width="69.3" height="30.2" fill="#5a167e"/>
<rect x="1823.9" y="2326.7" width="138.6" height="30.2" fill="#451077"/>
<rect x="1962.5" y="2326.7" width="138.6" height="30.2" fill="#5a167e"/>
<rect x="2101.1" y="2326.7" width="69.3" height="30.2" fill="#451077"/>
<rect x="2170.5" y="2326.7" width="69.3" height="30.2" fill="#5a167e"/>
<rect x="2239.8" y="2326.7" width="69.3" height="30.2" fill="#451077"/>
<rect x="2309.1" y="2326.7" width="415.9" height="30.2" fill="#5a167e"/>
<rect x="2725" y="2326.7" width="69.3" height="30.2" fill="#842681"/>
<rect x="2794.3" y="2326.7" width="69.3" height="30.2" fill="#701f81"/>
<rect x="229.5" y="2356.4" width="208" height="30.2" fill="#5a167e"/>
<rect x="437.5" y="2356.4" width="138.6" height="30.2" fill="#451077"/>
<rect x="576.1" y="2356.4" width="138.6" height="30.2" fill="#5a167e"/>
<rect x="714.7" y="2356.4" width="138.6" height="30.2" fill="#451077"/>
<rect x="853.4" y="2356.4" width="69.3" height="30.2" fill="#5a167e"/>
<rect x="922.7" y="2356.4" width="69.3" height="30.2" fill="#451077"/>
<rect x="992" y="2356.4" width="69.3" height="30.2" fill="#5a167e"/>
<rect x="1061.3" y="2356.4" width="138.6" height="30.2" fill="#451077"/>
<rect x="1200" y="2356.4" width="623.9" height="30.2" fill="#5a167e"/>
<rect x="1823.9" y="2356.4" width="69.3" height="30.2" fill="#451077"/>
<rect x="1893.2" y="2356.4" width="69.3" height="30.2" fill="#5a167e"/>
<rect x="1962.5" y="2356.4" width="138.6" height="30.2" fill="#451077"/>
<rect x="2101.1" y="2356.4" width="69.3" height="30.2" fill="#5a167e"/>
<rect x="2170.5" y="2356.4" width="69.3" height="30.2" fill="#451077"/>
<rect x="2239.8" y="2356.4" width="69.3" height="30.2" fill="#5a167e"/>
<rect x="2309.1" y="2356.4" width="69.3" height="30.2" fill="#451077"/>
<rect x="2378.4" y="2356.4" width="485.2" height="30.2" fill="#5a167e"/>
<rect x="229.5" y="2386.1" width="69.3" height="30.2" fill="#701f81"/>
<rect x="298.8" y="2386.1" width="138.6" height="30.2" fill="#451077"/>
<rect x="437.5" y="2386.1" width="69.3" height="30.2" fill="#5a167e"/>
<rect x="506.8" y="2386.1" width="208" height="30.2" fill="#451077"/>
<rect x="714.7" y="2386.1" width="69.3" height="30.2" fill="#5a167e"/>
<rect x="784.1" y="2386.1" width="415.9" height="30.2" fill="#451077"/>
<rect x="1200" y="2386.1" width="69.3" height="30.2" fill="#5a167e"/>
<rect x="1269.3" y="2386.1" width="69.3" height="30.2" fill="#451077"/>
<rect x="1338.6" y="2386.1" width="69.3" height="30.2" fill="#701f81"/>
<rect x="1407.9" y="2386.1" width="901.2" height="30.2" fill="#5a167e"/>
<rect x="2309.1" y="2386.1" width="208" height="30.2" fill="#451077"/>
<rect x="2517.1" y="2386.1" width="208" height="30.2" fill="#5a167e"/>
<rect x="2725" y="2386.1" width="138.6" height="30.2" fill="#701f81"/>
<rect x="229.5" y="2415.8" width="69.3" height="30.2" fill="#701f81"/>
<rect x="298.8" y="2415.8" width="208" height="30.2" fill="#451077"/>
<rect x="506.8" y="2415.8" width="138.6" height="30.2" fill="#5a167e"/>
<rect x="645.4" y="2415.8" width="277.3" height="30.2" fill="#451077"/>
<rect x="922.7" y="2415.8" width="69.3" height="30.2" fill="#701f81"/>
<rect x="992" y="2415.8" width="277.3" height="30.2" fill="#451077"/>
<rect x="1269.3" y="2415.8" width="138.6" height="30.2" fill="#5a167e"/>
<rect x="1407.9" y="2415.8" width="69.3" height="30.2" fill="#451077"/>
<rect x="1477.3" y="2415.8" width="485.2" height="30.2" fill="#5a167e"/>
<rect x="1962.5" y="2415.8" width="208" height="30.2" fill="#451077"/>
<rect x="2170.5" y="2415.8" width="69.3" height="30.2" fill="#5a167e"/>
<rect x="2239.8" y="2415.8" width="346.6" height="30.2" fill="#451077"/>
<rect x="2586.4" y="2415.8" width="138.6" height="30.2" fill="#5a167e"/>
<rect x="2725" y="2415.8" width="138.6" height="30.2" fill="#701f81"/>
<rect x="229.5" y="2445.4" width="69.3" height="30.2" fill="#5a167e"/>
<rect x="298.8" y="2445.4" width="138.6" height="30.2" fill="#451077"/>
<rect x="437.5" y="2445.4" width="138.6" height="30.2" fill="#5a167e"/>
<rect x="576.1" y="2445.4" width="138.6" height="30.2" fill="#451077"/>
<rect x="714.7" y="2445.4" width="138.6" height="30.2" fill="#5a167e"/>
<rect x="853.4" y="2445.4" width="69.3" height="30.2" fill="#451077"/>
<rect x="922.7" y="2445.4" width="69.3" height="30.2" fill="#2f1163"/>
<rect x="992" y="2445.4" width="138.6" height="30.2" fill="#451077"/>
<rect x="1130.7" y="2445.4" width="138.6" height="30.2" fill="#5a167e"/>
<rect x="1269.3" y="2445.4" width="69.3" height="30.2" fill="#451077"/>
<rect x="1338.6" y="2445.4" width="69.3" height="30.2" fill="#5a167e"/>
<rect x="1407.9" y="2445.4" width="69.3" height="30.2" fill="#451077"/>
<rect x="1477.3" y="2445.4" width="208" height="30.2" fill="#701f81"/>
<rect x="1685.2" y="2445.4" width="138.6" height="30.2" fill="#5a167e"/>
<rect x="1823.9" y="2445.4" width="138.6" height="30.2" fill="#451077"/>
<rect x="1962.5" y="2445.4" width="208" height="30.2" fill="#5a167e"/>
<rect x="2170.5" y="2445.4" width="138.6" height="30.2" fill="#701f81"/>
<rect x="2309.1" y="2445.4" width="138.6" height="30.2" fill="#5a167e"/>
<rect x="2447.7" y="2445.4" width="69.3" height="30.2" fill="#701f81"/>
<rect x="2517.1" y="2445.4" width="69.3" height="30.2" fill="#5a167e"/>
<rect x="2586.4" y="2445.4" width="69.3" height="30.2" fill="#701f81"/>
<rect x="2655.7" y="2445.4" width="69.3" height="30.2" fill="#5a167e"/>
<rect x="2725" y="2445.4" width="138.6" height="30.2" fill="#451077"/>
<rect x="229.5" y="2475.1" width="69.3" height="30.2" fill="#2f1163"/>
<rect x="298.8" y="2475.1" width="138.6" height="30.2" fill="#5a167e"/>
<rect x="437.5" y="2475.1" width="69.3" height="30.2" fill="#451077"/>
<rect x="506.8" y="2475.1" width="208" height="30.2" fill="#5a167e"/>
<rect x="714.7" y="2475.1" width="69.3" height="30.2" fill="#451077"/>
<rect x="784.1" y="2475.1" width="138.6" height="30.2" fill="#5a167e"/>
<rect x="922.7" y="2475.1" width="138.6" height="30.2" fill="#451077"/>
<rect x="1061.3" y="2475.1" width="138.6" height="30.2" fill="#5a167e"/>
<rect x="1200" y="2475.1" width="138.6" height="30.2" fill="#451077"/>
<rect x="1338.6" y="2475.1" width="346.6" height="30.2" fill="#5a167e"/>
<rect x="1685.2" y="2475.1" width="69.3" height="30.2" fill="#451077"/>
<rect x="1754.5" y="2475.1" width="69.3" height="30.2" fill="#5a167e"/>
<rect x="1823.9" y="2475.1" width="69.3" height="30.2" fill="#451077"/>
<rect x="1893.2" y="2475.1" width="138.6" height="30.2" fill="#5a167e"/>
<rect x="2031.8" y="2475.1" width="138.6" height="30.2" fill="#451077"/>
<rect x="2170.5" y="2475.1" width="623.9" height="30.2" fill="#5a167e"/>
<rect x="2794.3" y="2475.1" width="69.3" height="30.2" fill="#451077"/>
<rect x="229.5" y="2504.8" width="138.6" height="30.2" fill="#451077"/>
<rect x="368.1" y="2504.8" width="69.3" height="30.2" fill="#5a167e"/>
<rect x="437.5" y="2504.8" width="69.3" height="30.2" fill="#451077"/>
<rect x="506.8" y="2504.8" width="208" height="30.2" fill="#5a167e"/>
<rect x="714.7" y="2504.8" width="69.3" height="30.2" fill="#451077"/>
<rect x="784.1" y="2504.8" width="69.3" height="30.2" fill="#5a167e"/>
<rect x="853.4" y="2504.8" width="485.2" height="30.2" fill="#451077"/>
<rect x="1338.6" y="2504.8" width="69.3" height="30.2" fill="#701f81"/>
<rect x="1407.9" y="2504.8" width="415.9" height="30.2" fill="#5a167e"/>
<rect x="1823.9" y="2504.8" width="138.6" height="30.2" fill="#451077"/>
<rect x="1962.5" y="2504.8" width="554.6" height="30.2" fill="#5a167e"/>
<rect x="2517.1" y="2504.8" width="69.3" height="30.2" fill="#701f81"/>
<rect x="2586.4" y="2504.8" width="277.3" height="30.2" fill="#5a167e"/>
<rect x="229.5" y="2534.5" width="69.3" height="30.2" fill="#5a167e"/>
<rect x="298.8" y="2534.5" width="277.3" height="30.2" fill="#451077"/>
<rect x="576.1" y="2534.5" width="69.3" height="30.2" fill="#5a167e"/>
<rect x="645.4" y="2534.5" width="138.6" height="30.2" fill="#451077"/>
<rect x="784.1" y="2534.5" width="69.3" height="30.2" fill="#5a167e"/>
<rect x="853.4" y="2534.5" width="277.3" height="30.2" fill="#451077"/>
<rect x="1130.7" y="2534.5" width="69.3" height="30.2" fill="#5a167e"/>
<rect x="1200" y="2534.5" width="138.6" height="30.2" fill="#451077"/>
<rect x="1338.6" y="2534.5" width="277.3" height="30.2" fill="#5a167e"/>
<rect x="1615.9" y="2534.5" width="138.6" height="30.2" fill="#451077"/>
<rect x="1754.5" y="2534.5" width="69.3" height="30.2" fill="#5a167e"/>
<rect x="1823.9" y="2534.5" width="69.3" height="30.2" fill="#451077"/>
<rect x="1893.2" y="2534.5" width="138.6" height="30.2" fill="#5a167e"/>
<rect x="2031.8" y="2534.5" width="69.3" height="30.2" fill="#451077"/>
<rect x="2101.1" y="2534.5" width="69.3" height="30.2" fill="#5a167e"/>
<rect x="2170.5" y="2534.5" width="69.3" height="30.2" fill="#451077"/>
<rect x="2239.8" y="2534.5" width="69.3" height="30.2" fill="#5a167e"/>
<rect x="2309.1" y="2534.5" width="69.3" height="30.2" fill="#451077"/>
<rect x="2378.4" y="2534.5" width="346.6" height="30.2" fill="#5a167e"/>
<rect x="2725" y="2534.5" width="69.3" height="30.2" fill="#451077"/>
<rect x="2794.3" y="2534.5" width="69.3" height="30.2" fill="#5a167e"/>
<rect x="229.5" y="2564.2" width="69.3" height="30.2" fill="#701f81"/>
<rect x="298.8" y="2564.2" width="69.3" height="30.2" fill="#5a167e"/>
<rect x="368.1" y="2564.2" width="138.6" height="30.2" fill="#451077"/>
<rect x="506.8" y="2564.2" width="415.9" height="30.2" fill="#5a167e"/>
<rect x="922.7" y="2564.2" width="69.3" height="30.2" fill="#451077"/>
<rect x="992" y="2564.2" width="138.6" height="30.2" fill="#5a167e"/>
<rect x="1130.7" y="2564.2" width="208" height="30.2" fill="#451077"/>
<rect x="1338.6" y="2564.2" width="970.5" height="30.2" fill="#5a167e"/>
<rect x="2309.1" y="2564.2" width="69.3" height="30.2" fill="#701f81"/>
<rect x="2378.4" y="2564.2" width="485.2" height="30.2" fill="#5a167e"/>
<rect x="229.5" y="2593.9" width="138.6" height="30.2" fill="#451077"/>
<rect x="368.1" y="2593.9" width="208" height="30.2" fill="#5a167e"/>
<rect x="576.1" y="2593.9" width="138.6" height="30.2" fill="#451077"/>
<rect x="714.7" y="2593.9" width="69.3" height="30.2" fill="#5a167e"/>
<rect x="784.1" y="2593.9" width="554.6" height="30.2" fill="#451077"/>
<rect x="1338.6" y="2593.9" width="138.6" height="30.2" fill="#701f81"/>
<rect x="1477.3" y="2593.9" width="1247.8" height="30.2" fill="#5a167e"/>
<rect x="2725" y="2593.9" width="138.6" height="30.2" fill="#451077"/>
<rect x="229.5" y="2623.6" width="69.3" height="30.2" fill="#992d80"/>
<rect x="298.8" y="2623.6" width="415.9" height="30.2" fill="#451077"/>
<rect x="714.7" y="2623.6" width="69.3" height="30.2" fill="#5a167e"/>
<rect x="784.1" y="2623.6" width="138.6" height="30.2" fill="#451077"/>
<rect x="922.7" y="2623.6" width="69.3" height="30.2" fill="#2f1163"/>
<rect x="992" y="2623.6" width="485.2" height="30.2" fill="#451077"/>
<rect x="1477.3" y="2623.6" width="415.9" height="30.2" fill="#5a167e"/>
<rect x="1893.2" y="2623.6" width="277.3" height="30.2" fill="#451077"/>
<rect x="2170.5" y="2623.6" width="138.6" height="30.2" fill="#5a167e"/>
<rect x="2309.1" y="2623.6" width="69.3" height="30.2" fill="#451077"/>
<rect x="2378.4" y="2623.6" width="138.6" height="30.2" fill="#5a167e"/>
<rect x="2517.1" y="2623.6" width="138.6" height="30.2" fill="#451077"/>
<rect x="2655.7" y="2623.6" width="69.3" height="30.2" fill="#5a167e"/>
<rect x="2725" y="2623.6" width="69.3" height="30.2" fill="#451077"/>
<rect x="2794.3" y="2623.6" width="69.3" height="30.2" fill="#5a167e"/>
<rect x="229.5" y="2653.2" width="69.3" height="30.2" fill="#842681"/>
<rect x="298.8" y="2653.2" width="208" height="30.2" fill="#5a167e"/>
<rect x="506.8" y="2653.2" width="415.9" height="30.2" fill="#451077"/>
<rect x="922.7" y="2653.2" width="69.3" height="30.2" fill="#2f1163"/>
<rect x="992" y="2653.2" width="277.3" height="30.2" fill="#451077"/>
<rect x="1269.3" y="2653.2" width="69.3" height="30.2" fill="#2f1163"/>
<rect x="1338.6" y="2653.2" width="138.6" height="30.2" fill="#451077"/>
<rect x="1477.3" y="2653.2" width="485.2" height="30.2" fill="#5a167e"/>
<rect x="1962.5" y="2653.2" width="415.9" height="30.2" fill="#451077"/>
<rect x="2378.4" y="2653.2" width="69.3" height="30.2" fill="#5a167e"/>
<rect x="2447.7" y="2653.2" width="138.6" height="30.2" fill="#451077"/>
<rect x="2586.4" y="2653.2" width="69.3" height="30.2" fill="#5a167e"/>
<rect x="2655.7" y="2653.2" width="69.3" height="30.2" fill="#451077"/>
<rect x="2725" y="2653.2" width="69.3" height="30.2" fill="#2f1163"/>
<rect x="2794.3" y="2653.2" width="69.3" height="30.2" fill="#5a167e"/>
<rect x="229.5" y="2682.9" width="69.3" height="30.2" fill="#451077"/>
<rect x="298.8" y="2682.9" width="69.3" height="30.2" fill="#2f1163"/>
<rect x="368.1" y="2682.9" width="554.6" height="30.2" fill="#451077"/>
<rect x="922.7" y="2682.9" width="69.3" height="30.2" fill="#2f1163"/>
<rect x="992" y="2682.9" width="277.3" height="30.2" fill="#451077"/>
<rect x="1269.3" y="2682.9" width="69.3" height="30.2" fill="#2f1163"/>
<rect x="1338.6" y="2682.9" width="346.6" height="30.2" fill="#5a167e"/>
<rect x="1685.2" y="2682.9" width="69.3" height="30.2" fill="#451077"/>
<rect x="1754.5" y="2682.9" width="69.3" height="30.2" fill="#5a167e"/>
<rect x="1823.9" y="2682.9" width="138.6" height="30.2" fill="#451077"/>
<rect x="1962.5" y="2682.9" width="69.3" height="30.2" fill="#5a167e"/>
<rect x="2031.8" y="2682.9" width="69.3" height="30.2" fill="#451077"/>
<rect x="2101.1" y="2682.9" width="208" height="30.2" fill="#5a167e"/>
<rect x="2309.1" y="2682.9" width="69.3" height="30.2" fill="#451077"/>
<rect x="2378.4" y="2682.9" width="69.3" height="30.2" fill="#5a167e"/>
<rect x="2447.7" y="2682.9" width="69.3" height="30.2" fill="#451077"/>
<rect x="2517.1" y="2682.9" width="69.3" height="30.2" fill="#5a167e"/>
<rect x="2586.4" y="2682.9" width="138.6" height="30.2" fill="#451077"/>
<rect x="2725" y="2682.9" width="69.3" height="30.2" fill="#2f1163"/>
<rect x="2794.3" y="2682.9" width="69.3" height="30.2" fill="#451077"/>
<rect x="229.5" y="2712.6" width="69.3" height="30.2" fill="#5a167e"/>
<rect x="298.8" y="2712.6" width="69.3" height="30.2" fill="#2f1163"/>
<rect x="368.1" y="2712.6" width="554.6" height="30.2" fill="#451077"/>
<rect x="922.7" y="2712.6" width="138.6" height="30.2" fill="#2f1163"/>
<rect x="1061.3" y="2712.6" width="277.3" height="30.2" fill="#451077"/>
<rect x="1338.6" y="2712.6" width="346.6" height="30.2" fill="#5a167e"/>
<rect x="1685.2" y="2712.6" width="415.9" height="30.2" fill="#451077"/>
<rect x="2101.1" y="2712.6" width="208" height="30.2" fill="#5a167e"/>
<rect x="2309.1" y="2712.6" width="69.3" height="30.2" fill="#451077"/>
<rect x="2378.4" y="2712.6" width="69.3" height="30.2" fill="#5a167e"/>
<rect x="2447.7" y="2712.6" width="69.3" height="30.2" fill="#451077"/>
<rect x="2517.1" y="2712.6" width="69.3" height="30.2" fill="#5a167e"/>
<rect x="2586.4" y="2712.6" width="208" height="30.2" fill="#451077"/>
<rect x="2794.3" y="2712.6" width="69.3" height="30.2" fill="#5a167e"/>
<rect x="229.5" y="2742.3" width="69.3" height="30.2" fill="#5a167e"/>
<rect x="298.8" y="2742.3" width="69.3" height="30.2" fill="#2f1163"/>
<rect x="368.1" y="2742.3" width="554.6" height="30.2" fill="#451077"/>
<rect x="922.7" y="2742.3" width="69.3" height="30.2" fill="#2f1163"/>
<rect x="992" y="2742.3" width="346.6" height="30.2" fill="#451077"/>
<rect x="1338.6" y="2742.3" width="208" height="30.2" fill="#5a167e"/>
<rect x="1546.6" y="2742.3" width="69.3" height="30.2" fill="#451077"/>
<rect x="1615.9" y="2742.3" width="69.3" height="30.2" fill="#5a167e"/>
<rect x="1685.2" y="2742.3" width="277.3" height="30.2" fill="#451077"/>
<rect x="1962.5" y="2742.3" width="69.3" height="30.2" fill="#5a167e"/>
<rect x="2031.8" y="2742.3" width="138.6" height="30.2" fill="#451077"/>
<rect x="2170.5" y="2742.3" width="138.6" height="30.2" fill="#5a167e"/>
<rect x="2309.1" y="2742.3" width="138.6" height="30.2" fill="#451077"/>
<rect x="2447.7" y="2742.3" width="208" height="30.2" fill="#5a167e"/>
<rect x="2655.7" y="2742.3" width="208" height="30.2" fill="#451077"/>
<rect x="229.5" y="2772" width="69.3" height="30.2" fill="#5a167e"/>
<rect x="298.8" y="2772" width="623.9" height="30.2" fill="#451077"/>
<rect x="922.7" y="2772" width="69.3" height="30.2" fill="#2f1163"/>
<rect x="992" y="2772" width="485.2" height="30.2" fill="#451077"/>
<rect x="1477.3" y="2772" width="69.3" height="30.2" fill="#5a167e"/>
<rect x="1546.6" y="2772" width="69.3" height="30.2" fill="#451077"/>
<rect x="1615.9" y="2772" width="69.3" height="30.2" fill="#5a167e"/>
<rect x="1685.2" y="2772" width="138.6" height="30.2" fill="#451077"/>
<rect x="1823.9" y="2772" width="69.3" height="30.2" fill="#5a167e"/>
<rect x="1893.2" y="2772" width="970.5" height="30.2" fill="#451077"/>
<rect x="229.5" y="2801.7" width="69.3" height="30.2" fill="#5a167e"/>
<rect x="298.8" y="2801.7" width="277.3" height="30.2" fill="#451077"/>
<rect x="576.1" y="2801.7" width="69.3" height="30.2" fill="#5a167e"/>
<rect x="645.4" y="2801.7" width="277.3" height="30.2" fill="#451077"/>
<rect x="922.7" y="2801.7" width="69.3" height="30.2" fill="#2f1163"/>
<rect x="992" y="2801.7" width="485.2" height="30.2" fill="#451077"/>
<rect x="1477.3" y="2801.7" width="69.3" height="30.2" fill="#5a167e"/>
<rect x="1546.6" y="2801.7" width="346.6" height="30.2" fill="#451077"/>
<rect x="1893.2" y="2801.7" width="69.3" height="30.2" fill="#5a167e"/>
<rect x="1962.5" y="2801.7" width="415.9" height="30.2" fill="#451077"/>
<rect x="2378.4" y="2801.7" width="138.6" height="30.2" fill="#5a167e"/>
<rect x="2517.1" y="2801.7" width="346.6" height="30.2" fill="#451077"/>
<rect x="229.5" y="2831.4" width="69.3" height="30.2" fill="#5a167e"/>
<rect x="298.8" y="2831.4" width="277.3" height="30.2" fill="#451077"/>
<rect x="576.1" y="2831.4" width="138.6" height="30.2" fill="#5a167e"/>
<rect x="714.7" y="2831.4" width="208" height="30.2" fill="#451077"/>
<rect x="922.7" y="2831.4" width="69.3" height="30.2" fill="#2f1163"/>
<rect x="992" y="2831.4" width="346.6" height="30.2" fill="#451077"/>
<rect x="1338.6" y="2831.4" width="208" height="30.2" fill="#5a167e"/>
<rect x="1546.6" y="2831.4" width="69.3" height="30.2" fill="#451077"/>
<rect x="1615.9" y="2831.4" width="69.3" height="30.2" fill="#5a167e"/>
<rect x="1685.2" y="2831.4" width="69.3" height="30.2" fill="#451077"/>
<rect x="1754.5" y="2831.4" width="69.3" height="30.2" fill="#5a167e"/>
<rect x="1823.9" y="2831.4" width="69.3" height="30.2" fill="#451077"/>
<rect x="1893.2" y="2831.4" width="138.6" height="30.2" fill="#5a167e"/>
<rect x="2031.8" y="2831.4" width="69.3" height="30.2" fill="#451077"/>
<rect x="2101.1" y="2831.4" width="69.3" height="30.2" fill="#5a167e"/>
<rect x="2170.5" y="2831.4" width="138.6" height="30.2" fill="#451077"/>
<rect x="2309.1" y="2831.4" width="415.9" height="30.2" fill="#5a167e"/>
<rect x="2725" y="2831.4" width="138.6" height="30.2" fill="#451077"/>
<rect x="229.5" y="2861.1" width="69.3" height="30.2" fill="#5a167e"/>
<rect x="298.8" y="2861.1" width="208" height="30.2" fill="#451077"/>
<rect x="506.8" y="2861.1" width="69.3" height="30.2" fill="#5a167e"/>
<rect x="576.1" y="2861.1" width="138.6" height="30.2" fill="#451077"/>
<rect x="714.7" y="2861.1" width="69.3" height="30.2" fill="#5a167e"/>
<rect x="784.1" y="2861.1" width="138.6" height="30.2" fill="#451077"/>
<rect x="922.7" y="2861.1" width="69.3" height="30.2" fill="#2f1163"/>
<rect x="992" y="2861.1" width="277.3" height="30.2" fill="#451077"/>
<rect x="1269.3" y="2861.1" width="69.3" height="30.2" fill="#2f1163"/>
<rect x="1338.6" y="2861.1" width="277.3" height="30.2" fill="#5a167e"/>
<rect x="1615.9" y="2861.1" width="138.6" height="30.2" fill="#451077"/>
<rect x="1754.5" y="2861.1" width="415.9" height="30.2" fill="#5a167e"/>
<rect x="2170.5" y="2861.1" width="208" height="30.2" fill="#451077"/>
<rect x="2378.4" y="2861.1" width="138.6" height="30.2" fill="#5a167e"/>
<rect x="2517.1" y="2861.1" width="69.3" height="30.2" fill="#451077"/>
<rect x="2586.4" y="2861.1" width="138.6" height="30.2" fill="#5a167e"/>
<rect x="2725" y="2861.1" width="138.6" height="30.2" fill="#451077"/>
<rect x="229.5" y="2890.7" width="69.3" height="30.2" fill="#5a167e"/>
<rect x="298.8" y="2890.7" width="970.5" height="30.2" fill="#451077"/>
<rect x="1269.3" y="2890.7" width="69.3" height="30.2" fill="#2f1163"/>
<rect x="1338.6" y="2890.7" width="346.6" height="30.2" fill="#5a167e"/>
<rect x="1685.2" y="2890.7" width="69.3" height="30.2" fill="#451077"/>
<rect x="1754.5" y="2890.7" width="69.3" height="30.2" fill="#5a167e"/>
<rect x="1823.9" y="2890.7" width="485.2" height="30.2" fill="#451077"/>
<rect x="2309.1" y="2890.7" width="69.3" height="30.2" fill="#5a167e"/>
<rect x="2378.4" y="2890.7" width="485.2" height="30.2" fill="#451077"/>
<rect x="229.5" y="2920.4" width="69.3" height="30.2" fill="#5a167e"/>
<rect x="298.8" y="2920.4" width="485.2" height="30.2" fill="#451077"/>
<rect x="784.1" y="2920.4" width="69.3" height="30.2" fill="#5a167e"/>
<rect x="853.4" y="2920.4" width="69.3" height="30.2" fill="#451077"/>
<rect x="922.7" y="2920.4" width="69.3" height="30.2" fill="#2f1163"/>
<rect x="992" y="2920.4" width="346.6" height="30.2" fill="#451077"/>
<rect x="1338.6" y="2920.4" width="346.6" height="30.2" fill="#5a167e"/>
<rect x="1685.2" y="2920.4" width="415.9" height="30.2" fill="#451077"/>
<rect x="2101.1" y="2920.4" width="138.6" height="30.2" fill="#5a167e"/>
<rect x="2239.8" y="2920.4" width="69.3" height="30.2" fill="#451077"/>
<rect x="2309.1" y="2920.4" width="138.6" height="30.2" fill="#5a167e"/>
<rect x="2447.7" y="2920.4" width="208" height="30.2" fill="#451077"/>
<rect x="2655.7" y="2920.4" width="69.3" height="30.2" fill="#5a167e"/>
<rect x="2725" y="2920.4" width="138.6" height="30.2" fill="#451077"/>
<rect x="229.5" y="2950.1" width="69.3" height="30.2" fill="#701f81"/>
<rect x="298.8" y="2950.1" width="69.3" height="30.2" fill="#451077"/>
<rect x="368.1" y="2950.1" width="69.3" height="30.2" fill="#5a167e"/>
<rect x="437.5" y="2950.1" width="277.3" height="30.2" fill="#451077"/>
<rect x="714.7" y="2950.1" width="138.6" height="30.2" fill="#5a167e"/>
<rect x="853.4" y="2950.1" width="69.3" height="30.2" fill="#451077"/>
<rect x="922.7" y="2950.1" width="69.3" height="30.2" fill="#2f1163"/>
<rect x="992" y="2950.1" width="346.6" height="30.2" fill="#451077"/>
<rect x="1338.6" y="2950.1" width="69.3" height="30.2" fill="#5a167e"/>
<rect x="1407.9" y="2950.1" width="69.3" height="30.2" fill="#451077"/>
<rect x="1477.3" y="2950.1" width="346.6" height="30.2" fill="#5a167e"/>
<rect x="1823.9" y="2950.1" width="138.6" height="30.2" fill="#451077"/>
<rect x="1962.5" y="2950.1" width="208" height="30.2" fill="#5a167e"/>
<rect x="2170.5" y="2950.1" width="69.3" height="30.2" fill="#451077"/>
<rect x="2239.8" y="2950.1" width="208" height="30.2" fill="#5a167e"/>
<rect x="2447.7" y="2950.1" width="69.3" height="30.2" fill="#451077"/>
<rect x="2517.1" y="2950.1" width="69.3" height="30.2" fill="#5a167e"/>
<rect x="2586.4" y="2950.1" width="69.3" height="30.2" fill="#451077"/>
<rect x="2655.7" y="2950.1" width="69.3" height="30.2" fill="#5a167e"/>
<rect x="2725" y="2950.1" width="69.3" height="30.2" fill="#451077"/>
<rect x="2794.3" y="2950.1" width="69.3" height="30.2" fill="#5a167e"/>
<rect x="229.5" y="2979.8" width="208" height="30.2" fill="#5a167e"/>
<rect x="437.5" y="2979.8" width="69.3" height="30.2" fill="#451077"/>
<rect x="506.8" y="2979.8" width="69.3" height="30.2" fill="#5a167e"/>
<rect x="576.1" y="2979.8" width="208" height="30.2" fill="#451077"/>
<rect x="784.1" y="2979.8" width="69.3" height="30.2" fill="#5a167e"/>
<rect x="853.4" y="2979.8" width="485.2" height="30.2" fill="#451077"/>
<rect x="1338.6" y="2979.8" width="346.6" height="30.2" fill="#5a167e"/>
<rect x="1685.2" y="2979.8" width="208" height="30.2" fill="#451077"/>
<rect x="1893.2" y="2979.8" width="69.3" height="30.2" fill="#5a167e"/>
<rect x="1962.5" y="2979.8" width="138.6" height="30.2" fill="#451077"/>
<rect x="2101.1" y="2979.8" width="69.3" height="30.2" fill="#5a167e"/>
<rect x="2170.5" y="2979.8" width="138.6" height="30.2" fill="#451077"/>
<rect x="2309.1" y="2979.8" width="138.6" height="30.2" fill="#5a167e"/>
<rect x="2447.7" y="2979.8" width="69.3" height="30.2" fill="#451077"/>
<rect x="2517.1" y="2979.8" width="69.3" height="30.2" fill="#5a167e"/>
<rect x="2586.4" y="2979.8" width="69.3" height="30.2" fill="#451077"/>
<rect x="2655.7" y="2979.8" width="208" height="30.2" fill="#5a167e"/>
<rect x="229.5" y="3009.5" width="69.3" height="30.2" fill="#5a167e"/>
<rect x="298.8" y="3009.5" width="69.3" height="30.2" fill="#451077"/>
<rect x="368.1" y="3009.5" width="69.3" height="30.2" fill="#5a167e"/>
<rect x="437.5" y="3009.5" width="138.6" height="30.2" fill="#451077"/>
<rect x="576.1" y="3009.5" width="138.6" height="30.2" fill="#5a167e"/>
<rect x="714.7" y="3009.5" width="277.3" height="30.2" fill="#451077"/>
<rect x="992" y="3009.5" width="69.3" height="30.2" fill="#2f1163"/>
<rect x="1061.3" y="3009.5" width="69.3" height="30.2" fill="#451077"/>
<rect x="1130.7" y="3009.5" width="69.3" height="30.2" fill="#2f1163"/>
<rect x="1200" y="3009.5" width="69.3" height="30.2" fill="#451077"/>
<rect x="1269.3" y="3009.5" width="69.3" height="30.2" fill="#2f1163"/>
<rect x="1338.6" y="3009.5" width="693.2" height="30.2" fill="#5a167e"/>
<rect x="2031.8" y="3009.5" width="69.3" height="30.2" fill="#451077"/>
<rect x="2101.1" y="3009.5" width="69.3" height="30.2" fill="#5a167e"/>
<rect x="2170.5" y="3009.5" width="138.6" height="30.2" fill="#451077"/>
<rect x="2309.1" y="3009.5" width="69.3" height="30.2" fill="#5a167e"/>
<rect x="2378.4" y="3009.5" width="138.6" height="30.2" fill="#451077"/>
<rect x="2517.1" y="3009.5" width="208" height="30.2" fill="#5a167e"/>
<rect x="2725" y="3009.5" width="69.3" height="30.2" fill="#451077"/>
<rect x="2794.3" y="3009.5" width="69.3" height="30.2" fill="#5a167e"/>
<rect x="229.5" y="3039.2" width="69.3" height="30.2" fill="#842681"/>
<rect x="298.8" y="3039.2" width="138.6" height="30.2" fill="#451077"/>
<rect x="437.5" y="3039.2" width="69.3" height="30.2" fill="#5a167e"/>
<rect x="506.8" y="3039.2" width="346.6" height="30.2" fill="#451077"/>
<rect x="853.4" y="3039.2" width="69.3" height="30.2" fill="#2f1163"/>
<rect x="922.7" y="3039.2" width="69.3" height="30.2" fill="#451077"/>
<rect x="992" y="3039.2" width="69.3" height="30.2" fill="#1c1044"/>
<rect x="1061.3" y="3039.2" width="69.3" height="30.2" fill="#2f1163"/>
<rect x="1130.7" y="3039.2" width="208" height="30.2" fill="#451077"/>
<rect x="1338.6" y="3039.2" width="69.3" height="30.2" fill="#701f81"/>
<rect x="1407.9" y="3039.2" width="554.6" height="30.2" fill="#5a167e"/>
<rect x="1962.5" y="3039.2" width="138.6" height="30.2" fill="#451077"/>
<rect x="2101.1" y="3039.2" width="138.6" height="30.2" fill="#5a167e"/>
<rect x="2239.8" y="3039.2" width="69.3" height="30.2" fill="#451077"/>
<rect x="2309.1" y="3039.2" width="69.3" height="30.2" fill="#5a167e"/>
<rect x="2378.4" y="3039.2" width="138.6" height="30.2" fill="#2f1163"/>
<rect x="2517.1" y="3039.2" width="69.3" height="30.2" fill="#451077"/>
<rect x="2586.4" y="3039.2" width="138.6" height="30.2" fill="#5a167e"/>
<rect x="2725" y="3039.2" width="69.3" height="30.2" fill="#451077"/>
<rect x="2794.3" y="3039.2" width="69.3" height="30.2" fill="#701f81"/>
<rect x="229.5" y="3068.9" width="69.3" height="30.2" fill="#ae347b"/>
<rect x="298.8" y="3068.9" width="138.6" height="30.2" fill="#5a167e"/>
<rect x="437.5" y="3068.9" width="69.3" height="30.2" fill="#701f81"/>
<rect x="506.8" y="3068.9" width="69.3" height="30.2" fill="#451077"/>
<rect x="576.1" y="3068.9" width="138.6" height="30.2" fill="#5a167e"/>
<rect x="714.7" y="3068.9" width="69.3" height="30.2" fill="#701f81"/>
<rect x="784.1" y="3068.9" width="138.6" height="30.2" fill="#5a167e"/>
<rect x="922.7" y="3068.9" width="69.3" height="30.2" fill="#2f1163"/>
<rect x="992" y="3068.9" width="138.6" height="30.2" fill="#451077"/>
<rect x="1130.7" y="3068.9" width="69.3" height="30.2" fill="#5a167e"/>
<rect x="1200" y="3068.9" width="138.6" height="30.2" fill="#451077"/>
<rect x="1338.6" y="3068.9" width="554.6" height="30.2" fill="#701f81"/>
<rect x="1893.2" y="3068.9" width="208" height="30.2" fill="#5a167e"/>
<rect x="2101.1" y="3068.9" width="138.6" height="30.2" fill="#701f81"/>
<rect x="2239.8" y="3068.9" width="138.6" height="30.2" fill="#5a167e"/>
<rect x="2378.4" y="3068.9" width="69.3" height="30.2" fill="#701f81"/>
<rect x="2447.7" y="3068.9" width="277.3" height="30.2" fill="#5a167e"/>
<rect x="2725" y="3068.9" width="69.3" height="30.2" fill="#451077"/>
<rect x="2794.3" y="3068.9" width="69.3" height="30.2" fill="#701f81"/>
<rect x="229.5" y="3098.6" width="69.3" height="30.2" fill="#992d80"/>
<rect x="298.8" y="3098.6" width="138.6" height="30.2" fill="#5a167e"/>
<rect x="437.5" y="3098.6" width="69.3" height="30.2" fill="#701f81"/>
<rect x="506.8" y="3098.6" width="415.9" height="30.2" fill="#5a167e"/>
<rect x="922.7" y="3098.6" width="208" height="30.2" fill="#451077"/>
<rect x="1130.7" y="3098.6" width="346.6" height="30.2" fill="#5a167e"/>
<rect x="1477.3" y="3098.6" width="69.3" height="30.2" fill="#701f81"/>
<rect x="1546.6" y="3098.6" width="138.6" height="30.2" fill="#5a167e"/>
<rect x="1685.2" y="3098.6" width="138.6" height="30.2" fill="#701f81"/>
<rect x="1823.9" y="3098.6" width="69.3" height="30.2" fill="#5a167e"/>
<rect x="1893.2" y="3098.6" width="69.3" height="30.2" fill="#701f81"/>
<rect x="1962.5" y="3098.6" width="831.8" height="30.2" fill="#5a167e"/>
<rect x="2794.3" y="3098.6" width="69.3" height="30.2" fill="#701f81"/>
<rect x="229.5" y="3128.2" width="69.3" height="30.2" fill="#ae347b"/>
<rect x="298.8" y="3128.2" width="69.3" height="30.2" fill="#701f81"/>
<rect x="368.1" y="3128.2" width="69.3" height="30.2" fill="#5a167e"/>
<rect x="437.5" y="3128.2" width="69.3" height="30.2" fill="#842681"/>
<rect x="506.8" y="3128.2" width="208" height="30.2" fill="#451077"/>
<rect x="714.7" y="3128.2" width="138.6" height="30.2" fill="#5a167e"/>
<rect x="853.4" y="3128.2" width="277.3" height="30.2" fill="#451077"/>
<rect x="1130.7" y="3128.2" width="138.6" height="30.2" fill="#5a167e"/>
<rect x="1269.3" y="3128.2" width="69.3" height="30.2" fill="#451077"/>
<rect x="1338.6" y="3128.2" width="208" height="30.2" fill="#5a167e"/>
<rect x="1546.6" y="3128.2" width="69.3" height="30.2" fill="#701f81"/>
<rect x="1615.9" y="3128.2" width="69.3" height="30.2" fill="#5a167e"/>
<rect x="1685.2" y="3128.2" width="69.3" height="30.2" fill="#701f81"/>
<rect x="1754.5" y="3128.2" width="208" height="30.2" fill="#5a167e"/>
<rect x="1962.5" y="3128.2" width="138.6" height="30.2" fill="#451077"/>
<rect x="2101.1" y="3128.2" width="208" height="30.2" fill="#5a167e"/>
<rect x="2309.1" y="3128.2" width="69.3" height="30.2" fill="#451077"/>
<rect x="2378.4" y="3128.2" width="69.3" height="30.2" fill="#5a167e"/>
<rect x="2447.7" y="3128.2" width="69.3" height="30.2" fill="#451077"/>
<rect x="2517.1" y="3128.2" width="277.3" height="30.2" fill="#5a167e"/>
<rect x="2794.3" y="3128.2" width="69.3" height="30.2" fill="#842681"/>
<rect x="229.5" y="3157.9" width="69.3" height="30.2" fill="#d9466b"/>
<rect x="298.8" y="3157.9" width="277.3" height="30.2" fill="#992d80"/>
<rect x="576.1" y="3157.9" width="208" height="30.2" fill="#ae347b"/>
<rect x="784.1" y="3157.9" width="138.6" height="30.2" fill="#992d80"/>
<rect x="922.7" y="3157.9" width="69.3" height="30.2" fill="#842681"/>
<rect x="992" y="3157.9" width="346.6" height="30.2" fill="#992d80"/>
<rect x="1338.6" y="3157.9" width="831.8" height="30.2" fill="#ae347b"/>
<rect x="2170.5" y="3157.9" width="69.3" height="30.2" fill="#992d80"/>
<rect x="2239.8" y="3157.9" width="485.2" height="30.2" fill="#ae347b"/>
<rect x="2725" y="3157.9" width="69.3" height="30.2" fill="#992d80"/>
<rect x="2794.3" y="3157.9" width="69.3" height="30.2" fill="#ae347b"/>
<rect x="229.5" y="3187.6" width="69.3" height="30.2" fill="#ae347b"/>
<rect x="298.8" y="3187.6" width="277.3" height="30.2" fill="#992d80"/>
<rect x="576.1" y="3187.6" width="138.6" height="30.2" fill="#842681"/>
<rect x="714.7" y="3187.6" width="208" height="30.2" fill="#992d80"/>
<rect x="922.7" y="3187.6" width="69.3" height="30.2" fill="#701f81"/>
<rect x="992" y="3187.6" width="138.6" height="30.2" fill="#842681"/>
<rect x="1130.7" y="3187.6" width="69.3" height="30.2" fill="#992d80"/>
<rect x="1200" y="3187.6" width="138.6" height="30.2" fill="#842681"/>
<rect x="1338.6" y="3187.6" width="69.3" height="30.2" fill="#ae347b"/>
<rect x="1407.9" y="3187.6" width="69.3" height="30.2" fill="#992d80"/>
<rect x="1477.3" y="3187.6" width="138.6" height="30.2" fill="#ae347b"/>
<rect x="1615.9" y="3187.6" width="138.6" height="30.2" fill="#992d80"/>
<rect x="1754.5" y="3187.6" width="69.3" height="30.2" fill="#ae347b"/>
<rect x="1823.9" y="3187.6" width="277.3" height="30.2" fill="#992d80"/>
<rect x="2101.1" y="3187.6" width="69.3" height="30.2" fill="#ae347b"/>
<rect x="2170.5" y="3187.6" width="346.6" height="30.2" fill="#992d80"/>
<rect x="2517.1" y="3187.6" width="69.3" height="30.2" fill="#ae347b"/>
<rect x="2586.4" y="3187.6" width="277.3" height="30.2" fill="#992d80"/>
<rect x="229.5" y="3217.3" width="277.3" height="30.2" fill="#ae347b"/>
<rect x="506.8" y="3217.3" width="346.6" height="30.2" fill="#c43c75"/>
<rect x="853.4" y="3217.3" width="69.3" height="30.2" fill="#ae347b"/>
<rect x="922.7" y="3217.3" width="69.3" height="30.2" fill="#992d80"/>
<rect x="992" y="3217.3" width="277.3" height="30.2" fill="#ae347b"/>
<rect x="1269.3" y="3217.3" width="69.3" height="30.2" fill="#992d80"/>
<rect x="1338.6" y="3217.3" width="208" height="30.2" fill="#d9466b"/>
<rect x="1546.6" y="3217.3" width="69.3" height="30.2" fill="#c43c75"/>
<rect x="1615.9" y="3217.3" width="69.3" height="30.2" fill="#d9466b"/>
<rect x="1685.2" y="3217.3" width="1039.8" height="30.2" fill="#c43c75"/>
<rect x="2725" y="3217.3" width="69.3" height="30.2" fill="#ae347b"/>
<rect x="2794.3" y="3217.3" width="69.3" height="30.2" fill="#c43c75"/>
<rect x="229.5" y="3247" width="69.3" height="30.2" fill="#fe9d6c"/>
<rect x="298.8" y="3247" width="138.6" height="30.2" fill="#ae347b"/>
<rect x="437.5" y="3247" width="485.2" height="30.2" fill="#c43c75"/>
<rect x="922.7" y="3247" width="69.3" height="30.2" fill="#992d80"/>
<rect x="992" y="3247" width="346.6" height="30.2" fill="#ae347b"/>
<rect x="1338.6" y="3247" width="138.6" height="30.2" fill="#c43c75"/>
<rect x="1477.3" y="3247" width="485.2" height="30.2" fill="#d9466b"/>
<rect x="1962.5" y="3247" width="415.9" height="30.2" fill="#c43c75"/>
<rect x="2378.4" y="3247" width="69.3" height="30.2" fill="#d9466b"/>
<rect x="2447.7" y="3247" width="277.3" height="30.2" fill="#c43c75"/>
<rect x="2725" y="3247" width="69.3" height="30.2" fill="#ae347b"/>
<rect x="2794.3" y="3247" width="69.3" height="30.2" fill="#d9466b"/>
<rect x="229.5" y="3276.7" width="69.3" height="30.2" fill="#ea5661"/>
<rect x="298.8" y="3276.7" width="69.3" height="30.2" fill="#d9466b"/>
<rect x="368.1" y="3276.7" width="69.3" height="30.2" fill="#ea5661"/>
<rect x="437.5" y="3276.7" width="69.3" height="30.2" fill="#d9466b"/>
<rect x="506.8" y="3276.7" width="69.3" height="30.2" fill="#f56b5c"/>
<rect x="576.1" y="3276.7" width="138.6" height="30.2" fill="#d9466b"/>
<rect x="714.7" y="3276.7" width="69.3" height="30.2" fill="#ea5661"/>
<rect x="784.1" y="3276.7" width="69.3" height="30.2" fill="#d9466b"/>
<rect x="853.4" y="3276.7" width="69.3" height="30.2" fill="#ea5661"/>
<rect x="922.7" y="3276.7" width="208" height="30.2" fill="#d9466b"/>
<rect x="1130.7" y="3276.7" width="69.3" height="30.2" fill="#c43c75"/>
<rect x="1200" y="3276.7" width="138.6" height="30.2" fill="#ea5661"/>
<rect x="1338.6" y="3276.7" width="208" height="30.2" fill="#f56b5c"/>
<rect x="1546.6" y="3276.7" width="138.6" height="30.2" fill="#fb835f"/>
<rect x="1685.2" y="3276.7" width="69.3" height="30.2" fill="#ea5661"/>
<rect x="1754.5" y="3276.7" width="69.3" height="30.2" fill="#f56b5c"/>
<rect x="1823.9" y="3276.7" width="346.6" height="30.2" fill="#ea5661"/>
<rect x="2170.5" y="3276.7" width="138.6" height="30.2" fill="#f56b5c"/>
<rect x="2309.1" y="3276.7" width="208" height="30.2" fill="#fb835f"/>
<rect x="2517.1" y="3276.7" width="69.3" height="30.2" fill="#f56b5c"/>
<rect x="2586.4" y="3276.7" width="69.3" height="30.2" fill="#fb835f"/>
<rect x="2655.7" y="3276.7" width="69.3" height="30.2" fill="#f56b5c"/>
<rect x="2725" y="3276.7" width="69.3" height="30.2" fill="#fe9d6c"/>
<rect x="2794.3" y="3276.7" width="69.3" height="30.2" fill="#fb835f"/>
<rect x="229.5" y="3306.4" width="69.3" height="30.2" fill="#fcfdbf"/>
<rect x="298.8" y="3306.4" width="69.3" height="30.2" fill="#f56b5c"/>
<rect x="368.1" y="3306.4" width="138.6" height="30.2" fill="#fb835f"/>
<rect x="506.8" y="3306.4" width="208" height="30.2" fill="#f56b5c"/>
<rect x="714.7" y="3306.4" width="138.6" height="30.2" fill="#fb835f"/>
<rect x="853.4" y="3306.4" width="69.3" height="30.2" fill="#f56b5c"/>
<rect x="922.7" y="3306.4" width="69.3" height="30.2" fill="#c43c75"/>
<rect x="992" y="3306.4" width="277.3" height="30.2" fill="#ea5661"/>
<rect x="1269.3" y="3306.4" width="69.3" height="30.2" fill="#d9466b"/>
<rect x="1338.6" y="3306.4" width="138.6" height="30.2" fill="#fe9d6c"/>
<rect x="1477.3" y="3306.4" width="69.3" height="30.2" fill="#feb67c"/>
<rect x="1546.6" y="3306.4" width="69.3" height="30.2" fill="#fecd90"/>
<rect x="1615.9" y="3306.4" width="138.6" height="30.2" fill="#feb67c"/>
<rect x="1754.5" y="3306.4" width="69.3" height="30.2" fill="#fecd90"/>
<rect x="1823.9" y="3306.4" width="69.3" height="30.2" fill="#fe9d6c"/>
<rect x="1893.2" y="3306.4" width="69.3" height="30.2" fill="#fb835f"/>
<rect x="1962.5" y="3306.4" width="69.3" height="30.2" fill="#fe9d6c"/>
<rect x="2031.8" y="3306.4" width="69.3" height="30.2" fill="#fb835f"/>
<rect x="2101.1" y="3306.4" width="69.3" height="30.2" fill="#fe9d6c"/>
<rect x="2170.5" y="3306.4" width="69.3" height="30.2" fill="#fb835f"/>
<rect x="2239.8" y="3306.4" width="208" height="30.2" fill="#fe9d6c"/>
<rect x="2447.7" y="3306.4" width="69.3" height="30.2" fill="#fb835f"/>
<rect x="2517.1" y="3306.4" width="208" height="30.2" fill="#fe9d6c"/>
<rect x="2725" y="3306.4" width="69.3" height="30.2" fill="#ea5661"/>
<rect x="2794.3" y="3306.4" width="69.3" height="30.2" fill="#fe9d6c"/>
</g>
<path d="M229.5 365.8V3337.6M298.8 365.8V3337.6M368.1 365.8V3337.6M437.5 365.8V3337.6M506.8 365.8V3337.6M576.1 365.8V3337.6M645.4 365.8V3337.6M714.7 365.8V3337.6M784.1 365.8V3337.6M853.4 365.8V3337.6M922.7 365.8V3337.6M992 365.8V3337.6M1061.3 365.8V3337.6M1130.7 365.8V3337.6M1200 365.8V3337.6M1269.3 365.8V3337.6M1338.6 365.8V3337.6M1407.9 365.8V3337.6M1477.3 365.8V3337.6M1546.6 365.8V3337.6M1615.9 365.8V3337.6M1685.2 365.8V3337.6M1754.5 365.8V3337.6M1823.9 365.8V3337.6M1893.2 365.8V3337.6M1962.5 365.8V3337.6M2031.8 365.8V3337.6M2101.1 365.8V3337.6M2170.5 365.8V3337.6M2239.8 365.8V3337.6M2309.1 365.8V3337.6M2378.4 365.8V3337.6M2447.7 365.8V3337.6M2517.1 365.8V3337.6M2586.4 365.8V3337.6M2655.7 365.8V3337.6M2725 365.8V3337.6M2794.3 365.8V3337.6M2863.7 365.8V3337.6M227.9 367.4H2865.2M227.9 397H2865.2M227.9 426.7H2865.2M227.9 456.4H2865.2M227.9 486.1H2865.2M227.9 515.8H2865.2M227.9 545.5H2865.2M227.9 575.2H2865.2M227.9 604.8H2865.2M227.9 634.5H2865.2M227.9 664.2H2865.2M227.9 693.9H2865.2M227.9 723.6H2865.2M227.9 753.3H2865.2M227.9 783H2865.2M227.9 812.7H2865.2M227.9 842.3H2865.2M227.9 872H2865.2M227.9 901.7H2865.2M227.9 931.4H2865.2M227.9 961.1H2865.2M227.9 990.8H2865.2M227.9 1020.5H2865.2M227.9 1050.2H2865.2M227.9 1079.8H2865.2M227.9 1109.5H2865.2M227.9 1139.2H2865.2M227.9 1168.9H2865.2M227.9 1198.6H2865.2M227.9 1228.3H2865.2M227.9 1258H2865.2M227.9 1287.6H2865.2M227.9 1317.3H2865.2M227.9 1347H2865.2M227.9 1376.7H2865.2M227.9 1406.4H2865.2M227.9 1436.1H2865.2M227.9 1465.8H2865.2M227.9 1495.5H2865.2M227.9 1525.1H2865.2M227.9 1554.8H2865.2M227.9 1584.5H2865.2M227.9 1614.2H2865.2M227.9 1643.9H2865.2M227.9 1673.6H2865.2M227.9 1703.3H2865.2M227.9 1733H2865.2M227.9 1762.6H2865.2M227.9 1792.3H2865.2M227.9 1822H2865.2M227.9 1851.7H2865.2M227.9 1881.4H2865.2M227.9 1911.1H2865.2M227.9 1940.8H2865.2M227.9 1970.4H2865.2M227.9 2000.1H2865.2M227.9 2029.8H2865.2M227.9 2059.5H2865.2M227.9 2089.2H2865.2M227.9 2118.9H2865.2M227.9 2148.6H2865.2M227.9 2178.3H2865.2M227.9 2207.9H2865.2M227.9 2237.6H2865.2M227.9 2267.3H2865.2M227.9 2297H2865.2M227.9 2326.7H2865.2M227.9 2356.4H2865.2M227.9 2386.1H2865.2M227.9 2415.8H2865.2M227.9 2445.4H2865.2M227.9 2475.1H2865.2M227.9 2504.8H2865.2M227.9 2534.5H2865.2M227.9 2564.2H2865.2M227.9 2593.9H2865.2M227.9 2623.6H2865.2M227.9 2653.2H2865.2M227.9 2682.9H2865.2M227.9 2712.6H2865.2M227.9 2742.3H2865.2M227.9 2772H2865.2M227.9 2801.7H2865.2M227.9 2831.4H2865.2M227.9 2861.1H2865.2M227.9 2890.7H2865.2M227.9 2920.4H2865.2M227.9 2950.1H2865.2M227.9 2979.8H2865.2M227.9 3009.5H2865.2M227.9 3039.2H2865.2M227.9 3068.9H2865.2M227.9 3098.6H2865.2M227.9 3128.2H2865.2M227.9 3157.9H2865.2M227.9 3187.6H2865.2M227.9 3217.3H2865.2M227.9 3247H2865.2M227.9 3276.7H2865.2M227.9 3306.4H2865.2M227.9 3336.1H2865.2" stroke="#000" stroke-width="3.1" fill="none"/>
<g shape-rendering="crispEdges">
<rect x="229.5" y="279.9" width="69.3" height="33" fill="#9EDAE5"/>
<rect x="298.8" y="279.9" width="138.6" height="33" fill="#FFBB78"/>
<rect x="437.5" y="279.9" width="69.3" height="33" fill="#7F7F7F"/>
<rect x="506.8" y="279.9" width="69.3" height="33" fill="#C5B0D5"/>
<rect x="576.1" y="279.9" width="69.3" height="33" fill="#1F77B4"/>
<rect x="645.4" y="279.9" width="69.3" height="33" fill="#8C564B"/>
<rect x="714.7" y="279.9" width="69.3" height="33" fill="#FF7F0E"/>
<rect x="784.1" y="279.9" width="138.6" height="33" fill="#FF9896"/>
<rect x="922.7" y="279.9" width="69.3" height="33" fill="#C5B0D5"/>
<rect x="992" y="279.9" width="138.6" height="33" fill="#F7B6D2"/>
<rect x="1130.7" y="279.9" width="69.3" height="33" fill="#DBDB8D"/>
<rect x="1200" y="279.9" width="69.3" height="33" fill="#2CA02C"/>
<rect x="1269.3" y="279.9" width="69.3" height="33" fill="#9467BD"/>
<rect x="1338.6" y="279.9" width="138.6" height="33" fill="#D62728"/>
<rect x="1477.3" y="279.9" width="69.3" height="33" fill="#E377C2"/>
<rect x="1546.6" y="279.9" width="138.6" height="33" fill="#17BECF"/>
<rect x="1685.2" y="279.9" width="69.3" height="33" fill="#C7C7C7"/>
<rect x="1754.5" y="279.9" width="69.3" height="33" fill="#AEC7E8"/>
<rect x="1823.9" y="279.9" width="69.3" height="33" fill="#1F77B4"/>
<rect x="1893.2" y="279.9" width="69.3" height="33" fill="#8C564B"/>
<rect x="1962.5" y="279.9" width="138.6" height="33" fill="#BCBD22"/>
<rect x="2101.1" y="279.9" width="69.3" height="33" fill="#C7C7C7"/>
<rect x="2170.5" y="279.9" width="69.3" height="33" fill="#E377C2"/>
<rect x="2239.8" y="279.9" width="69.3" height="33" fill="#FF7F0E"/>
<rect x="2309.1" y="279.9" width="69.3" height="33" fill="#C49C94"/>
<rect x="2378.4" y="279.9" width="138.6" height="33" fill="#98DF8A"/>
<rect x="2517.1" y="279.9" width="69.3" height="33" fill="#AEC7E8"/>
<rect x="2586.4" y="279.9" width="69.3" height="33" fill="#2CA02C"/>
<rect x="2655.7" y="279.9" width="69.3" height="33" fill="#C49C94"/>
<rect x="2725" y="279.9" width="69.3" height="33" fill="#9467BD"/>
<rect x="2794.3" y="279.9" width="69.3" height="33" fill="#9EDAE5"/>
</g>
<path d="M227.9 279.9H2865.2M227.9 312.9H2865.2M229.5 279.9V312.9M298.8 279.9V312.9M368.1 279.9V312.9M437.5 279.9V312.9M506.8 279.9V312.9M576.1 279.9V312.9M645.4 279.9V312.9M714.7 279.9V312.9M784.1 279.9V312.9M853.4 279.9V312.9M922.7 279.9V312.9M992 279.9V312.9M1061.3 279.9V312.9M1130.7 279.9V312.9M1200 279.9V312.9M1269.3 279.9V312.9M1338.6 279.9V312.9M1407.9 279.9V312.9M1477.3 279.9V312.9M1546.6 279.9V312.9M1615.9 279.9V312.9M1685.2 279.9V312.9M1754.5 279.9V312.9M1823.9 279.9V312.9M1893.2 279.9V312.9M1962.5 279.9V312.9M2031.8 279.9V312.9M2101.1 279.9V312.9M2170.5 279.9V312.9M2239.8 279.9V312.9M2309.1 279.9V312.9M2378.4 279.9V312.9M2447.7 279.9V312.9M2517.1 279.9V312.9M2586.4 279.9V312.9M2655.7 279.9V312.9M2725 279.9V312.9M2794.3 279.9V312.9M2863.7 279.9V312.9" stroke="#000" stroke-width="3.1" fill="none"/>
<g shape-rendering="crispEdges">
<rect x="229.5" y="321.7" width="69.3" height="33" fill="#EFC000"/>
<rect x="298.8" y="321.7" width="69.3" height="33" fill="#0073C2"/>
<rect x="368.1" y="321.7" width="346.6" height="33" fill="#EFC000"/>
<rect x="714.7" y="321.7" width="138.6" height="33" fill="#0073C2"/>
<rect x="853.4" y="321.7" width="69.3" height="33" fill="#EFC000"/>
<rect x="922.7" y="321.7" width="138.6" height="33" fill="#0073C2"/>
<rect x="1061.3" y="321.7" width="69.3" height="33" fill="#EFC000"/>
<rect x="1130.7" y="321.7" width="69.3" height="33" fill="#0073C2"/>
<rect x="1200" y="321.7" width="138.6" height="33" fill="#EFC000"/>
<rect x="1338.6" y="321.7" width="69.3" height="33" fill="#0073C2"/>
<rect x="1407.9" y="321.7" width="138.6" height="33" fill="#EFC000"/>
<rect x="1546.6" y="321.7" width="69.3" height="33" fill="#0073C2"/>
<rect x="1615.9" y="321.7" width="69.3" height="33" fill="#EFC000"/>
<rect x="1685.2" y="321.7" width="69.3" height="33" fill="#0073C2"/>
<rect x="1754.5" y="321.7" width="69.3" height="33" fill="#EFC000"/>
<rect x="1823.9" y="321.7" width="208" height="33" fill="#0073C2"/>
<rect x="2031.8" y="321.7" width="138.6" height="33" fill="#EFC000"/>
<rect x="2170.5" y="321.7" width="69.3" height="33" fill="#0073C2"/>
<rect x="2239.8" y="321.7" width="69.3" height="33" fill="#EFC000"/>
<rect x="2309.1" y="321.7" width="138.6" height="33" fill="#0073C2"/>
<rect x="2447.7" y="321.7" width="69.3" height="33" fill="#EFC000"/>
<rect x="2517.1" y="321.7" width="138.6" height="33" fill="#0073C2"/>
<rect x="2655.7" y="321.7" width="69.3" height="33" fill="#EFC000"/>
<rect x="2725" y="321.7" width="138.6" height="33" fill="#0073C2"/>
</g>
<path d="M227.9 321.7H2865.2M227.9 354.7H2865.2M229.5 321.7V354.7M298.8 321.7V354.7M368.1 321.7V354.7M437.5 321.7V354.7M506.8 321.7V354.7M576.1 321.7V354.7M645.4 321.7V354.7M714.7 321.7V354.7M784.1 321.7V354.7M853.4 321.7V354.7M922.7 321.7V354.7M992 321.7V354.7M1061.3 321.7V354.7M1130.7 321.7V354.7M1200 321.7V354.7M1269.3 321.7V354.7M1338.6 321.7V354.7M1407.9 321.7V354.7M1477.3 321.7V354.7M1546.6 321.7V354.7M1615.9 321.7V354.7M1685.2 321.7V354.7M1754.5 321.7V354.7M1823.9 321.7V354.7M1893.2 321.7V354.7M1962.5 321.7V354.7M2031.8 321.7V354.7M2101.1 321.7V354.7M2170.5 321.7V354.7M2239.8 321.7V354.7M2309.1 321.7V354.7M2378.4 321.7V354.7M2447.7 321.7V354.7M2517.1 321.7V354.7M2586.4 321.7V354.7M2655.7 321.7V354.7M2725 321.7V354.7M2794.3 321.7V354.7M2863.7 321.7V354.7" stroke="#000" stroke-width="3.1" fill="none"/>
<text class="b" x="2875.5" y="308.5">Participant</text>
<text class="b" x="2875.5" y="350.5">Treatment</text>
<text x="2876.3" y="394.1">3.2.1.21</text>
<text x="2876.3" y="423.8">1.-.-.-</text>
<text x="2876.3" y="453.5">3.4.24.-</text>
<text x="2876.3" y="483.2">2.7.7.6</text>
<text x="2876.3" y="512.8">5.6.2.2</text>
<text x="2876.3" y="542.5">3.4.-.-</text>
<text x="2876.3" y="572.2">3.2.1.23</text>
<text x="2876.3" y="601.9">3.1.6.-</text>
<text x="2876.3" y="631.6">3.2.1.37</text>
<text x="2876.3" y="661.3">3.6.5.-</text>
<text x="2876.3" y="691">2.4.1.129</text>
<text x="2876.3" y="720.7">2.7.1.69</text>
<text x="2876.3" y="750.3">2.7.1.-</text>
<text x="2876.3" y="780">3.1.21.3</text>
<text x="2876.3" y="809.7">2.3.1.-</text>
<text x="2876.3" y="839.4">2.4.1.25</text>
<text x="2876.3" y="869.1">1.4.1.14</text>
<text x="2876.3" y="898.8">4.4.1.11</text>
<text x="2876.3" y="928.5">2.5.1.49</text>
<text x="2876.3" y="958.1">3.6.3.3</text>
<text x="2876.3" y="987.8">3.5.1.28</text>
<text x="2876.3" y="1017.5">2.7.7.65</text>
<text x="2876.3" y="1047.2">1.4.7.1</text>
<text x="2876.3" y="1076.9">6.1.1.10</text>
<text x="2876.3" y="1106.6">3.4.21.53</text>
<text x="2876.3" y="1136.3">6.1.1.7</text>
<text x="2876.3" y="1166">6.1.1.9</text>
<text x="2876.3" y="1195.6">5.6.2.1</text>
<text x="2876.3" y="1225.3">2.7.4.1</text>
<text x="2876.3" y="1255">2.3.1.54</text>
<text x="2876.3" y="1284.7">4.2.1.33</text>
<text x="2876.3" y="1314.4">3.1.1.-</text>
<text x="2876.3" y="1344.1">3.6.3.14</text>
<text x="2876.3" y="1373.8">2.7.7.49</text>
<text x="2876.3" y="1403.5">5.99.1.2</text>
<text x="2876.3" y="1433.1">1.2.7.1</text>
<text x="2876.3" y="1462.8">2.8.1.7</text>
<text x="2876.3" y="1492.5">3.1.4.-</text>
<text x="2876.3" y="1522.2">3.4.11.-</text>
<text x="2876.3" y="1551.9">3.2.1.10</text>
<text x="2876.3" y="1581.6">3.6.3.8</text>
<text x="2876.3" y="1611.3">3.2.1.26</text>
<text x="2876.3" y="1640.9">3.1.3.16</text>
<text x="2876.3" y="1670.6">3.6.-.-</text>
<text x="2876.3" y="1700.3">2.7.9.1</text>
<text x="2876.3" y="1730">2.7.1.11</text>
<text x="2876.3" y="1759.7">5.1.3.2</text>
<text x="2876.3" y="1789.4">6.1.1.4</text>
<text x="2876.3" y="1819.1">2.7.7.8</text>
<text x="2876.3" y="1848.8">2.1.1.72</text>
<text x="2876.3" y="1878.4">1.1.1.100</text>
<text x="2876.3" y="1908.1">3.5.1.-</text>
<text x="2876.3" y="1937.8">2.4.1.212</text>
<text x="2876.3" y="1967.5">2.7.3.9</text>
<text x="2876.3" y="1997.2">2.4.2.14</text>
<text x="2876.3" y="2026.9">5.4.2.2</text>
<text x="2876.3" y="2056.6">1.3.1.-</text>
<text x="2876.3" y="2086.3">6.1.1.3</text>
<text x="2876.3" y="2115.9">7.1.2.2</text>
<text x="2876.3" y="2145.6">3.6.4.-</text>
<text x="2876.3" y="2175.3">1.4.1.13</text>
<text x="2876.3" y="2205">3.1.3.-</text>
<text x="2876.3" y="2234.7">6.3.5.5</text>
<text x="2876.3" y="2264.4">5.2.1.8</text>
<text x="2876.3" y="2294.1">3.2.1.-</text>
<text x="2876.3" y="2323.7">2.4.-.-</text>
<text x="2876.3" y="2353.4">3.4.21.-</text>
<text x="2876.3" y="2383.1">2.7.7.-</text>
<text x="2876.3" y="2412.8">2.4.1.-</text>
<text x="2876.3" y="2442.5">3.2.1.22</text>
<text x="2876.3" y="2472.2">3.1.4.52</text>
<text x="2876.3" y="2501.9">7.-.-.-</text>
<text x="2876.3" y="2531.6">2.7.8.-</text>
<text x="2876.3" y="2561.2">5.4.99.-</text>
<text x="2876.3" y="2590.9">2.4.1.1</text>
<text x="2876.3" y="2620.6">3.4.16.4</text>
<text x="2876.3" y="2650.3">2.4.1.18</text>
<text x="2876.3" y="2680">3.6.3.17</text>
<text x="2876.3" y="2709.7">2.7.7.27</text>
<text x="2876.3" y="2739.4">2.7.6.5</text>
<text x="2876.3" y="2769.1">2.2.1.7</text>
<text x="2876.3" y="2798.7">6.3.5.3</text>
<text x="2876.3" y="2828.4">6.1.1.20</text>
<text x="2876.3" y="2858.1">6.1.1.5</text>
<text x="2876.3" y="2887.8">2.2.1.6</text>
<text x="2876.3" y="2917.5">6.3.1.2</text>
<text x="2876.3" y="2947.2">1.17.4.2</text>
<text x="2876.3" y="2976.9">3.-.-.-</text>
<text x="2876.3" y="3006.5">1.1.1.-</text>
<text x="2876.3" y="3036.2">3.2.1.177</text>
<text x="2876.3" y="3065.9">3.2.1.55</text>
<text x="2876.3" y="3095.6">2.7.11.1</text>
<text x="2876.3" y="3125.3">2.6.1.-</text>
<text x="2876.3" y="3155">3.6.1.-</text>
<text x="2876.3" y="3184.7">2.7.7.7</text>
<text x="2876.3" y="3214.4">2.1.1.-</text>
<text x="2876.3" y="3244">3.1.-.-</text>
<text x="2876.3" y="3273.7">3.6.4.12</text>
<text x="2876.3" y="3303.4">2.7.13.3</text>
<text x="2876.3" y="3333.1">3.6.3.-</text>
<text transform="translate(252,3349.5) rotate(90)">SRR12289953</text>
<text transform="translate(321.3,3349.5) rotate(90)">SRR12289958</text>
<text transform="translate(390.6,3349.5) rotate(90)">SRR12289960</text>
<text transform="translate(459.9,3349.5) rotate(90)">SRR12289944</text>
<text transform="translate(529.2,3349.5) rotate(90)">SRR12289986</text>
<text transform="translate(598.6,3349.5) rotate(90)">SRR12289965</text>
<text transform="translate(667.9,3349.5) rotate(90)">SRR12289932</text>
<text transform="translate(737.2,3349.5) rotate(90)">SRR12289972</text>
<text transform="translate(806.5,3349.5) rotate(90)">SRR12289981</text>
<text transform="translate(875.8,3349.5) rotate(90)">SRR12289982</text>
<text transform="translate(945.2,3349.5) rotate(90)">SRR12289985</text>
<text transform="translate(1014.5,3349.5) rotate(90)">SRR12289995</text>
<text transform="translate(1083.8,3349.5) rotate(90)">SRR12289996</text>
<text transform="translate(1153.1,3349.5) rotate(90)">SRR12289931</text>
<text transform="translate(1222.4,3349.5) rotate(90)">SRR12289917</text>
<text transform="translate(1291.8,3349.5) rotate(90)">SRR12289925</text>
<text transform="translate(1361.1,3349.5) rotate(90)">SRR12289922</text>
<text transform="translate(1430.4,3349.5) rotate(90)">SRR12289921</text>
<text transform="translate(1499.7,3349.5) rotate(90)">SRR12289939</text>
<text transform="translate(1569,3349.5) rotate(90)">SRR12289951</text>
<text transform="translate(1638.4,3349.5) rotate(90)">SRR12289950</text>
<text transform="translate(1707.7,3349.5) rotate(90)">SRR12289964</text>
<text transform="translate(1777,3349.5) rotate(90)">SRR12289952</text>
<text transform="translate(1846.3,3349.5) rotate(90)">SRR12289968</text>
<text transform="translate(1915.6,3349.5) rotate(90)">SRR12289933</text>
<text transform="translate(1985,3349.5) rotate(90)">SRR12289949</text>
<text transform="translate(2054.3,3349.5) rotate(90)">SRR12289948</text>
<text transform="translate(2123.6,3349.5) rotate(90)">SRR12289999</text>
<text transform="translate(2192.9,3349.5) rotate(90)">SRR12289941</text>
<text transform="translate(2262.2,3349.5) rotate(90)">SRR12289973</text>
<text transform="translate(2331.6,3349.5) rotate(90)">SRR12289993</text>
<text transform="translate(2400.9,3349.5) rotate(90)">SRR12289979</text>
<text transform="translate(2470.2,3349.5) rotate(90)">SRR12289963</text>
<text transform="translate(2539.5,3349.5) rotate(90)">SRR12289955</text>
<text transform="translate(2608.8,3349.5) rotate(90)">SRR12289977</text>
<text transform="translate(2678.2,3349.5) rotate(90)">SRR12289990</text>
<text transform="translate(2747.5,3349.5) rotate(90)">SRR12289929</text>
<text transform="translate(2816.8,3349.5) rotate(90)">SRR12289978</text>
<path d="M333.5 275.2V247.5H402.8V275.2M610.8 275.2V261H680.1V275.2M541.4 275.2V239.6H645.4V261M818.7 275.2V244.7H888V275.2M749.4 275.2V238.2H853.4V244.7M593.4 239.6V233.1H801.4V238.2M472.1 275.2V217.3H697.4V233.1M368.1 247.5V213H584.8V217.3M1026.7 275.2V258.6H1096V275.2M1234.6 275.2V245.5H1304V275.2M1165.3 275.2V228H1269.3V245.5M1061.3 258.6V223.3H1217.3V228M957.4 275.2V202.5H1139.3V223.3M476.5 213V182.3H1048.3V202.5M1373.3 275.2V246.1H1442.6V275.2M1581.2 275.2V252.2H1650.6V275.2M1511.9 275.2V244.9H1615.9V252.2M1719.9 275.2V239.4H1789.2V275.2M1563.9 244.9V236.8H1754.5V239.4M1407.9 246.1V223.3H1659.2V236.8M1858.5 275.2V247.1H1927.8V275.2M1997.2 275.2V253.3H2066.5V275.2M2205.1 275.2V252.3H2274.4V275.2M2135.8 275.2V248H2239.8V252.3M2031.8 253.3V240.5H2187.8V248M1893.2 247.1V233.7H2109.8V240.5M2413.1 275.2V250.3H2482.4V275.2M2621 275.2V248.9H2690.4V275.2M2551.7 275.2V242.3H2655.7V248.9M2447.7 250.3V232.2H2603.7V242.3M2343.8 275.2V228.7H2525.7V232.2M2001.5 233.7V218.4H2434.7V228.7M1533.6 223.3V213.6H2218.1V218.4M2759.7 275.2V205.5H2829V275.2M1875.8 213.6V175.6H2794.3V205.5M762.4 182.3V137.2H2335.1V175.6M264.2 275.2V57.5H1548.7V137.2" stroke="#000" stroke-width="3.1" fill="none" stroke-linejoin="miter"/>
<path d="M227.9 411.9H216.9V441.6H227.9M227.9 382.2H211.7V426.7H216.9M227.9 471.3H223.1V500.9H227.9M227.9 530.6H217.4V560.3H227.9M223.1 486.1H209.1V545.5H217.4M211.7 404.5H201.6V515.8H209.1M227.9 649.4H219.3V679.1H227.9M227.9 619.7H215.6V664.2H219.3M227.9 590H211.5V642H215.6M227.9 708.8H220.4V738.4H227.9M227.9 797.8H219.8V827.5H227.9M227.9 768.1H219.3V812.7H219.8M220.4 723.6H215.6V790.4H219.3M227.9 886.9H224.5V916.6H227.9M227.9 857.2H221.4V901.7H224.5M227.9 1005.6H223V1035.3H227.9M227.9 975.9H221.5V1020.5H223M227.9 946.2H220V998.2H221.5M221.4 879.5H217.7V972.2H220M227.9 1124.4H223.5V1154.1H227.9M227.9 1094.7H222V1139.2H223.5M227.9 1065H220.5V1116.9H222M227.9 1213.4H223.5V1243.1H227.9M227.9 1302.5H225V1332.2H227.9M227.9 1272.8H223.5V1317.3H225M223.5 1228.3H222V1295.1H223.5M227.9 1183.7H220.5V1261.7H222M220.5 1091H218.2V1222.7H220.5M217.7 925.8H215.5V1156.8H218.2M227.9 1480.6H225.5V1510.3H227.9M227.9 1450.9H223.3V1495.5H225.5M227.9 1421.2H221.2V1473.2H223.3M227.9 1391.6H219.1V1447.2H221.2M227.9 1361.9H216.9V1419.4H219.1M215.5 987H213.3V1390.6H216.9M215.6 757H211.5V1188H213.3M227.9 1599.4H223.6V1629H227.9M227.9 1569.7H222.4V1614.2H223.6M227.9 1540H220.4V1591.9H222.4M227.9 1688.4H224.2V1718.1H227.9M227.9 1658.7H222.9V1703.3H224.2M227.9 1777.5H223.5V1807.2H227.9M227.9 1747.8H221.5V1792.3H223.5M227.9 1866.5H224.5V1896.2H227.9M227.9 1836.9H223V1881.4H224.5M227.9 1955.6H225.4V1985.3H227.9M227.9 2015H225.4V2044.7H227.9M225.4 1970.4H225.4V2029.8H225.4M225.4 2000.1H224.5V2074.4H227.9M227.9 1925.9H223V2037.2H224.5M223 1859.1H220.8V1981.6H223M221.5 1770.1H219.3V1911H220.8M222.9 1681H217.3V1838.8H219.3M220.4 1566H211.1V1760H217.3M211.5 972H207.3V1662.5H211.1M211.5 616H202.3V1317.5H207.3M227.9 2133.7H222.5V2163.4H227.9M227.9 2104H221.2V2148.6H222.5M227.9 2222.8H223.6V2252.5H227.9M227.9 2193.1H218.4V2237.6H223.6M221.2 2126.3H214.3V2215.4H218.4M227.9 2282.2H212.2V2311.8H227.9M214.3 2170.8H206V2297H212.2M227.9 2341.5H218.3V2371.2H227.9M227.9 2400.9H216.6V2430.6H227.9M218.3 2356.4H214.5V2415.8H216.6M227.9 2490H220.4V2519.7H227.9M220.4 2504.8H219.8V2549.3H227.9M227.9 2579H220.4V2608.7H227.9M219.8 2527.1H218.6V2593.9H220.4M227.9 2460.3H216.2V2560.5H218.6M227.9 2638.4H220.4V2668.1H227.9M227.9 2727.5H224.5V2757.2H227.9M227.9 2697.8H222.9V2742.3H224.5M227.9 2816.5H223V2846.2H227.9M227.9 2786.8H221.5V2831.4H223M222.9 2720H219V2809.1H221.5M227.9 2875.9H223V2905.6H227.9M227.9 2965H224.5V2994.6H227.9M227.9 2935.3H223V2979.8H224.5M223 2890.7H221.5V2957.5H223M221.5 2924.1H220V3024.3H227.9M219 2764.6H217V2974.2H220M220.4 2653.2H214.2V2883.6H217M216.2 2510.4H211.1V2767.8H214.2M214.5 2386.1H208.4V2637H211.1M227.9 3113.4H220.5V3143.1H227.9M227.9 3083.7H215.5V3128.2H220.5M227.9 3054H205V3106H215.5M208.4 2511.5H201.6V3080H205M206 2233.9H190.1V2795.8H201.6M202.3 966.4H177.7V2515H190.1M201.6 460.1H150.5V1740H177.7M227.9 3172.8H213.7V3202.5H227.9M227.9 3232.1H208.7V3261.8H227.9M213.7 3187.6H184.2V3247H208.7M227.9 3291.5H177.9V3321.2H227.9M184.2 3217.3H101.2V3306.4H177.9M150.5 1100.2H10.6V3261.8H101.2" stroke="#000" stroke-width="3.1" fill="none" stroke-linejoin="miter"/>
<g shape-rendering="crispEdges">
<rect x="3148" y="841" width="41.2" height="30" fill="#0b0924"/>
<rect x="3148" y="811" width="41.2" height="30" fill="#1c1044"/>
<rect x="3148" y="782" width="41.2" height="29" fill="#2f1163"/>
<rect x="3148" y="752" width="41.2" height="30" fill="#451077"/>
<rect x="3148" y="722" width="41.2" height="30" fill="#5a167e"/>
<rect x="3148" y="692" width="41.2" height="30" fill="#701f81"/>
<rect x="3148" y="663" width="41.2" height="29" fill="#842681"/>
<rect x="3148" y="633" width="41.2" height="30" fill="#992d80"/>
<rect x="3148" y="603" width="41.2" height="30" fill="#ae347b"/>
<rect x="3148" y="573" width="41.2" height="30" fill="#c43c75"/>
<rect x="3148" y="544" width="41.2" height="29" fill="#d9466b"/>
<rect x="3148" y="514" width="41.2" height="30" fill="#ea5661"/>
<rect x="3148" y="484" width="41.2" height="30" fill="#f56b5c"/>
<rect x="3148" y="454" width="41.2" height="30" fill="#fb835f"/>
<rect x="3148" y="425" width="41.2" height="29" fill="#fe9d6c"/>
<rect x="3148" y="395" width="41.2" height="30" fill="#feb67c"/>
<rect x="3148" y="365" width="41.2" height="30" fill="#fecd90"/>
<rect x="3148" y="335" width="41.2" height="30" fill="#fde5a7"/>
<rect x="3148" y="306" width="41.2" height="29" fill="#fcfdbf"/>
<rect x="3148" y="276" width="41.2" height="30" fill="#fcfdbf"/>
</g>
<text x="3207" y="882.5">0</text>
<text x="3207" y="784.9">0.2</text>
<text x="3207" y="687.3">0.4</text>
<text x="3207" y="589.7">0.6</text>
<text x="3207" y="492.1">0.8</text>
<text x="3207" y="394.5">1</text>
<text x="3207" y="296.9">1.2</text>
<text class="b" x="3260.5" y="299.6">Participant</text>
<rect x="3259.8" y="311.7" width="47.5" height="48" fill="#1F77B4" stroke="#000" stroke-width="3.1"/>
<text x="3317" y="347.3">S1</text>
<rect x="3259.8" y="359.7" width="47.5" height="48" fill="#FF7F0E" stroke="#000" stroke-width="3.1"/>
<text x="3317" y="395.3">S2</text>
<rect x="3259.8" y="407.7" width="47.5" height="48" fill="#2CA02C" stroke="#000" stroke-width="3.1"/>
<text x="3317" y="443.2">S3</text>
<rect x="3259.8" y="455.6" width="47.5" height="48" fill="#D62728" stroke="#000" stroke-width="3.1"/>
<text x="3317" y="491.2">S4</text>
<rect x="3259.8" y="503.6" width="47.5" height="48" fill="#9467BD" stroke="#000" stroke-width="3.1"/>
<text x="3317" y="539.2">S5</text>
<rect x="3259.8" y="551.6" width="47.5" height="48" fill="#8C564B" stroke="#000" stroke-width="3.1"/>
<text x="3317" y="587.2">S7</text>
<rect x="3259.8" y="599.6" width="47.5" height="48" fill="#E377C2" stroke="#000" stroke-width="3.1"/>
<text x="3317" y="635.2">S8</text>
<rect x="3259.8" y="647.6" width="47.5" height="48" fill="#7F7F7F" stroke="#000" stroke-width="3.1"/>
<text x="3317" y="683.1">S9</text>
<rect x="3259.8" y="695.5" width="47.5" height="48" fill="#BCBD22" stroke="#000" stroke-width="3.1"/>
<text x="3317" y="731.1">S10</text>
<rect x="3259.8" y="743.5" width="47.5" height="48" fill="#17BECF" stroke="#000" stroke-width="3.1"/>
<text x="3317" y="779.1">S11</text>
<rect x="3259.8" y="791.5" width="47.5" height="48" fill="#AEC7E8" stroke="#000" stroke-width="3.1"/>
<text x="3317" y="827.1">S12</text>
<rect x="3259.8" y="839.5" width="47.5" height="48" fill="#FFBB78" stroke="#000" stroke-width="3.1"/>
<text x="3317" y="875.1">S13</text>
<rect x="3259.8" y="887.5" width="47.5" height="48" fill="#98DF8A" stroke="#000" stroke-width="3.1"/>
<text x="3317" y="923.1">S16</text>
<rect x="3259.8" y="935.4" width="47.5" height="48" fill="#FF9896" stroke="#000" stroke-width="3.1"/>
<text x="3317" y="971">S17</text>
<rect x="3259.8" y="983.4" width="47.5" height="48" fill="#C5B0D5" stroke="#000" stroke-width="3.1"/>
<text x="3317" y="1019">S18</text>
<rect x="3259.8" y="1031.4" width="47.5" height="48" fill="#C49C94" stroke="#000" stroke-width="3.1"/>
<text x="3317" y="1067">S19</text>
<rect x="3259.8" y="1079.4" width="47.5" height="48" fill="#F7B6D2" stroke="#000" stroke-width="3.1"/>
<text x="3317" y="1115">S26</text>
<rect x="3259.8" y="1127.4" width="47.5" height="48" fill="#C7C7C7" stroke="#000" stroke-width="3.1"/>
<text x="3317" y="1162.9">S27</text>
<rect x="3259.8" y="1175.3" width="47.5" height="48" fill="#DBDB8D" stroke="#000" stroke-width="3.1"/>
<text x="3317" y="1210.9">S28</text>
<rect x="3259.8" y="1223.3" width="47.5" height="48" fill="#9EDAE5" stroke="#000" stroke-width="3.1"/>
<text x="3317" y="1258.9">S30</text>
<text class="b" x="3260.5" y="1331.7">Treatment</text>
<rect x="3259.8" y="1343.6" width="47.5" height="48" fill="#0073C2" stroke="#000" stroke-width="3.1"/>
<text x="3317" y="1379.2">post_treatment</text>
<rect x="3259.8" y="1391.6" width="47.5" height="48" fill="#EFC000" stroke="#000" stroke-width="3.1"/>
<text x="3317" y="1427.2">pre_treatment</text>
</svg></body></html>
